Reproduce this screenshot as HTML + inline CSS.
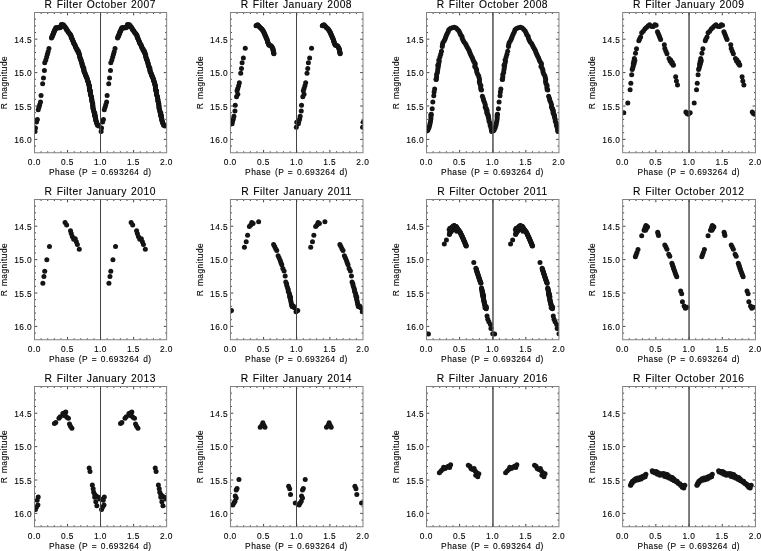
<!DOCTYPE html><html><head><meta charset="utf-8"><title>R Filter light curves</title>
<style>
html,body{margin:0;padding:0;background:#fff}
svg{display:block}
text{font-family:"Liberation Sans",sans-serif;fill:#000;stroke:#000;stroke-width:0.1px}
.t{font-size:10.3px;letter-spacing:0.5px;word-spacing:0.8px;text-anchor:middle}
.l{font-size:8.4px;letter-spacing:0.45px;word-spacing:1px;text-anchor:middle}
.k{font-size:8.4px;letter-spacing:0.4px;text-anchor:middle}
.y{font-size:8.4px;letter-spacing:0.4px;text-anchor:end}
.ml{stroke:#444;stroke-width:1;fill:none}
.mw{stroke:#505050;stroke-width:1.5;fill:none}
.ax{stroke:#808080;stroke-width:1;fill:none}
.tk{stroke:#444;stroke-width:1;fill:none}
.d circle{fill:#141414}
</style></head><body>
<svg width="761" height="551" viewBox="0 0 761 551">
<rect width="761" height="551" fill="#fff"/>
<g>
<text class="t" x="100.28" y="8.1">R Filter October 2007</text>
<path class="tk" d="M41.11 152.75v-1.5M41.11 12.5v1.5M47.72 152.75v-1.5M47.72 12.5v1.5M54.32 152.75v-1.5M54.32 12.5v1.5M60.93 152.75v-1.5M60.93 12.5v1.5M67.54 152.75v-2.8M67.54 12.5v2.8M74.15 152.75v-1.5M74.15 12.5v1.5M80.75 152.75v-1.5M80.75 12.5v1.5M87.36 152.75v-1.5M87.36 12.5v1.5M93.97 152.75v-1.5M93.97 12.5v1.5M100.58 152.75v-2.8M100.58 12.5v2.8M107.18 152.75v-1.5M107.18 12.5v1.5M113.79 152.75v-1.5M113.79 12.5v1.5M120.4 152.75v-1.5M120.4 12.5v1.5M127.01 152.75v-1.5M127.01 12.5v1.5M133.61 152.75v-2.8M133.61 12.5v2.8M140.22 152.75v-1.5M140.22 12.5v1.5M146.83 152.75v-1.5M146.83 12.5v1.5M153.44 152.75v-1.5M153.44 12.5v1.5M160.04 152.75v-1.5M160.04 12.5v1.5M34.5 19.18h1.5M166.65 19.18h-1.5M34.5 25.86h1.5M166.65 25.86h-1.5M34.5 32.54h1.5M166.65 32.54h-1.5M34.5 39.21h2.8M166.65 39.21h-2.8M34.5 45.89h1.5M166.65 45.89h-1.5M34.5 52.57h1.5M166.65 52.57h-1.5M34.5 59.25h1.5M166.65 59.25h-1.5M34.5 65.93h1.5M166.65 65.93h-1.5M34.5 72.61h2.8M166.65 72.61h-2.8M34.5 79.29h1.5M166.65 79.29h-1.5M34.5 85.96h1.5M166.65 85.96h-1.5M34.5 92.64h1.5M166.65 92.64h-1.5M34.5 99.32h1.5M166.65 99.32h-1.5M34.5 106h2.8M166.65 106h-2.8M34.5 112.68h1.5M166.65 112.68h-1.5M34.5 119.36h1.5M166.65 119.36h-1.5M34.5 126.04h1.5M166.65 126.04h-1.5M34.5 132.71h1.5M166.65 132.71h-1.5M34.5 139.39h2.8M166.65 139.39h-2.8M34.5 146.07h1.5M166.65 146.07h-1.5"/>
<clipPath id="c0"><rect x="34.5" y="12.5" width="132.15" height="140.25"/></clipPath>
<g class="d" clip-path="url(#c0)"><circle cx="51.47" cy="37.95" r="2.5"/><circle cx="117.54" cy="37.95" r="2.5"/><circle cx="51.75" cy="36.98" r="2.5"/><circle cx="117.82" cy="36.98" r="2.5"/><circle cx="52.47" cy="36.2" r="2.5"/><circle cx="118.54" cy="36.2" r="2.5"/><circle cx="52.49" cy="35.13" r="2.5"/><circle cx="118.56" cy="35.13" r="2.5"/><circle cx="53.18" cy="34.33" r="2.5"/><circle cx="119.25" cy="34.33" r="2.5"/><circle cx="53.46" cy="33.37" r="2.5"/><circle cx="119.54" cy="33.37" r="2.5"/><circle cx="53.66" cy="32.36" r="2.5"/><circle cx="119.73" cy="32.36" r="2.5"/><circle cx="54.34" cy="31.57" r="2.5"/><circle cx="120.42" cy="31.57" r="2.5"/><circle cx="54.43" cy="30.52" r="2.5"/><circle cx="120.51" cy="30.52" r="2.5"/><circle cx="55.14" cy="29.73" r="2.5"/><circle cx="121.21" cy="29.73" r="2.5"/><circle cx="55.35" cy="28.72" r="2.5"/><circle cx="121.43" cy="28.72" r="2.5"/><circle cx="55.82" cy="27.83" r="2.5"/><circle cx="121.89" cy="27.83" r="2.5"/><circle cx="56.77" cy="27.55" r="2.5"/><circle cx="122.84" cy="27.55" r="2.5"/><circle cx="57.65" cy="28.08" r="2.5"/><circle cx="123.73" cy="28.08" r="2.5"/><circle cx="58.7" cy="27.73" r="2.5"/><circle cx="124.77" cy="27.73" r="2.5"/><circle cx="59.69" cy="27.81" r="2.5"/><circle cx="125.77" cy="27.81" r="2.5"/><circle cx="60.36" cy="27.39" r="2.5"/><circle cx="126.43" cy="27.39" r="2.5"/><circle cx="60.96" cy="26.57" r="2.5"/><circle cx="127.03" cy="26.57" r="2.5"/><circle cx="61.12" cy="25.54" r="2.5"/><circle cx="127.19" cy="25.54" r="2.5"/><circle cx="61.39" cy="24.57" r="2.5"/><circle cx="127.47" cy="24.57" r="2.5"/><circle cx="62.13" cy="24.85" r="2.5"/><circle cx="128.2" cy="24.85" r="2.5"/><circle cx="63.43" cy="24.67" r="2.5"/><circle cx="129.5" cy="24.67" r="2.5"/><circle cx="63.57" cy="25.81" r="2.5"/><circle cx="129.65" cy="25.81" r="2.5"/><circle cx="64.49" cy="26.37" r="2.5"/><circle cx="130.57" cy="26.37" r="2.5"/><circle cx="65.17" cy="27.12" r="2.5"/><circle cx="131.24" cy="27.12" r="2.5"/><circle cx="65.77" cy="27.93" r="2.5"/><circle cx="131.84" cy="27.93" r="2.5"/><circle cx="66.24" cy="28.82" r="2.5"/><circle cx="132.31" cy="28.82" r="2.5"/><circle cx="66.53" cy="29.84" r="2.5"/><circle cx="132.6" cy="29.84" r="2.5"/><circle cx="67.47" cy="30.39" r="2.5"/><circle cx="133.55" cy="30.39" r="2.5"/><circle cx="67.82" cy="31.37" r="2.5"/><circle cx="133.9" cy="31.37" r="2.5"/><circle cx="68.37" cy="32.21" r="2.5"/><circle cx="134.45" cy="32.21" r="2.5"/><circle cx="69.1" cy="32.91" r="2.5"/><circle cx="135.18" cy="32.91" r="2.5"/><circle cx="69.59" cy="33.8" r="2.5"/><circle cx="135.66" cy="33.8" r="2.5"/><circle cx="70.42" cy="34.5" r="2.5"/><circle cx="136.49" cy="34.5" r="2.5"/><circle cx="70.83" cy="35.41" r="2.5"/><circle cx="136.9" cy="35.41" r="2.5"/><circle cx="71.14" cy="36.37" r="2.5"/><circle cx="137.21" cy="36.37" r="2.5"/><circle cx="71.24" cy="37.42" r="2.5"/><circle cx="137.31" cy="37.42" r="2.5"/><circle cx="71.81" cy="38.26" r="2.5"/><circle cx="137.88" cy="38.26" r="2.5"/><circle cx="72.29" cy="39.14" r="2.5"/><circle cx="138.36" cy="39.14" r="2.5"/><circle cx="72.52" cy="40.13" r="2.5"/><circle cx="138.59" cy="40.13" r="2.5"/><circle cx="73.01" cy="41.01" r="2.5"/><circle cx="139.08" cy="41.01" r="2.5"/><circle cx="73.52" cy="41.88" r="2.5"/><circle cx="139.59" cy="41.88" r="2.5"/><circle cx="73.6" cy="42.93" r="2.5"/><circle cx="139.68" cy="42.93" r="2.5"/><circle cx="74.07" cy="43.82" r="2.5"/><circle cx="140.15" cy="43.82" r="2.5"/><circle cx="74.81" cy="44.58" r="2.5"/><circle cx="140.88" cy="44.58" r="2.5"/><circle cx="75.04" cy="45.57" r="2.5"/><circle cx="141.12" cy="45.57" r="2.5"/><circle cx="75.53" cy="46.45" r="2.5"/><circle cx="141.6" cy="46.45" r="2.5"/><circle cx="75.75" cy="47.46" r="2.5"/><circle cx="141.83" cy="47.46" r="2.5"/><circle cx="76.29" cy="48.3" r="2.5"/><circle cx="142.37" cy="48.3" r="2.5"/><circle cx="77.01" cy="49.07" r="2.5"/><circle cx="143.09" cy="49.07" r="2.5"/><circle cx="77.03" cy="50.17" r="2.5"/><circle cx="143.1" cy="50.17" r="2.5"/><circle cx="78.02" cy="50.8" r="2.5"/><circle cx="144.09" cy="50.8" r="2.5"/><circle cx="78.27" cy="51.79" r="2.5"/><circle cx="144.35" cy="51.79" r="2.5"/><circle cx="78.42" cy="52.21" r="2.5"/><circle cx="144.5" cy="52.21" r="2.5"/><circle cx="78.23" cy="52.26" r="2.5"/><circle cx="144.3" cy="52.26" r="2.5"/><circle cx="78.94" cy="53.08" r="2.5"/><circle cx="145.02" cy="53.08" r="2.5"/><circle cx="79.02" cy="54.1" r="2.5"/><circle cx="145.1" cy="54.1" r="2.5"/><circle cx="79.63" cy="54.96" r="2.5"/><circle cx="145.7" cy="54.96" r="2.5"/><circle cx="79.52" cy="56.04" r="2.5"/><circle cx="145.6" cy="56.04" r="2.5"/><circle cx="79.76" cy="57.01" r="2.5"/><circle cx="145.84" cy="57.01" r="2.5"/><circle cx="80.2" cy="57.92" r="2.5"/><circle cx="146.27" cy="57.92" r="2.5"/><circle cx="80.3" cy="58.94" r="2.5"/><circle cx="146.38" cy="58.94" r="2.5"/><circle cx="80.99" cy="59.77" r="2.5"/><circle cx="147.07" cy="59.77" r="2.5"/><circle cx="81.04" cy="60.81" r="2.5"/><circle cx="147.12" cy="60.81" r="2.5"/><circle cx="81.42" cy="61.73" r="2.5"/><circle cx="147.49" cy="61.73" r="2.5"/><circle cx="81.74" cy="62.68" r="2.5"/><circle cx="147.81" cy="62.68" r="2.5"/><circle cx="82.11" cy="63.61" r="2.5"/><circle cx="148.18" cy="63.61" r="2.5"/><circle cx="82.13" cy="64.65" r="2.5"/><circle cx="148.21" cy="64.65" r="2.5"/><circle cx="82.35" cy="65.63" r="2.5"/><circle cx="148.43" cy="65.63" r="2.5"/><circle cx="82.95" cy="66.49" r="2.5"/><circle cx="149.03" cy="66.49" r="2.5"/><circle cx="83.1" cy="67.49" r="2.5"/><circle cx="149.18" cy="67.49" r="2.5"/><circle cx="83.8" cy="68.33" r="2.5"/><circle cx="149.87" cy="68.33" r="2.5"/><circle cx="83.65" cy="69.41" r="2.5"/><circle cx="149.73" cy="69.41" r="2.5"/><circle cx="83.98" cy="70.36" r="2.5"/><circle cx="150.05" cy="70.36" r="2.5"/><circle cx="84.03" cy="71.38" r="2.5"/><circle cx="150.1" cy="71.38" r="2.5"/><circle cx="84.43" cy="72.31" r="2.5"/><circle cx="150.51" cy="72.31" r="2.5"/><circle cx="85.07" cy="73.16" r="2.5"/><circle cx="151.15" cy="73.16" r="2.5"/><circle cx="85.32" cy="74.13" r="2.5"/><circle cx="151.39" cy="74.13" r="2.5"/><circle cx="85.47" cy="75.14" r="2.5"/><circle cx="151.55" cy="75.14" r="2.5"/><circle cx="86.23" cy="75.93" r="2.5"/><circle cx="152.31" cy="75.93" r="2.5"/><circle cx="86.27" cy="76.97" r="2.5"/><circle cx="152.34" cy="76.97" r="2.5"/><circle cx="86.8" cy="77.85" r="2.5"/><circle cx="152.87" cy="77.85" r="2.5"/><circle cx="87.16" cy="78.78" r="2.5"/><circle cx="153.24" cy="78.78" r="2.5"/><circle cx="87.54" cy="79.71" r="2.5"/><circle cx="153.61" cy="79.71" r="2.5"/><circle cx="87.4" cy="80.82" r="2.5"/><circle cx="153.47" cy="80.82" r="2.5"/><circle cx="88.15" cy="81.61" r="2.5"/><circle cx="154.23" cy="81.61" r="2.5"/><circle cx="88.41" cy="82.58" r="2.5"/><circle cx="154.49" cy="82.58" r="2.5"/><circle cx="88.65" cy="83.56" r="2.5"/><circle cx="154.72" cy="83.56" r="2.5"/><circle cx="88.65" cy="84.58" r="2.5"/><circle cx="154.72" cy="84.58" r="2.5"/><circle cx="89.38" cy="85.46" r="2.5"/><circle cx="155.45" cy="85.46" r="2.5"/><circle cx="89.3" cy="86.49" r="2.5"/><circle cx="155.38" cy="86.49" r="2.5"/><circle cx="89.41" cy="87.49" r="2.5"/><circle cx="155.49" cy="87.49" r="2.5"/><circle cx="89.36" cy="88.51" r="2.5"/><circle cx="155.44" cy="88.51" r="2.5"/><circle cx="89.59" cy="89.48" r="2.5"/><circle cx="155.66" cy="89.48" r="2.5"/><circle cx="89.74" cy="90.48" r="2.5"/><circle cx="155.81" cy="90.48" r="2.5"/><circle cx="90" cy="90.5" r="2.5"/><circle cx="156.08" cy="90.5" r="2.5"/><circle cx="48.95" cy="48.52" r="2.5"/><circle cx="115.03" cy="48.52" r="2.5"/><circle cx="48.1" cy="51.68" r="2.5"/><circle cx="114.18" cy="51.68" r="2.5"/><circle cx="47.37" cy="54.31" r="2.5"/><circle cx="113.45" cy="54.31" r="2.5"/><circle cx="46.63" cy="56.95" r="2.5"/><circle cx="112.71" cy="56.95" r="2.5"/><circle cx="45.79" cy="60.1" r="2.5"/><circle cx="111.87" cy="60.1" r="2.5"/><circle cx="44.74" cy="62.74" r="2.5"/><circle cx="110.81" cy="62.74" r="2.5"/><circle cx="44.42" cy="70.52" r="2.5"/><circle cx="110.49" cy="70.52" r="2.5"/><circle cx="43.47" cy="77.9" r="2.5"/><circle cx="109.55" cy="77.9" r="2.5"/><circle cx="42.63" cy="83.69" r="2.5"/><circle cx="108.71" cy="83.69" r="2.5"/><circle cx="41.05" cy="95.58" r="2.5"/><circle cx="107.13" cy="95.58" r="2.5"/><circle cx="40.53" cy="102.11" r="2.5"/><circle cx="106.6" cy="102.11" r="2.5"/><circle cx="39.69" cy="104.74" r="2.5"/><circle cx="105.76" cy="104.74" r="2.5"/><circle cx="38.95" cy="107.37" r="2.5"/><circle cx="105.02" cy="107.37" r="2.5"/><circle cx="38.21" cy="109.69" r="2.5"/><circle cx="104.29" cy="109.69" r="2.5"/><circle cx="90.15" cy="90.5" r="2.5"/><circle cx="156.23" cy="90.5" r="2.5"/><circle cx="90.25" cy="91.6" r="2.5"/><circle cx="156.33" cy="91.6" r="2.5"/><circle cx="90.49" cy="92.68" r="2.5"/><circle cx="156.57" cy="92.68" r="2.5"/><circle cx="90.33" cy="93.82" r="2.5"/><circle cx="156.4" cy="93.82" r="2.5"/><circle cx="90.47" cy="94.91" r="2.5"/><circle cx="156.55" cy="94.91" r="2.5"/><circle cx="91.23" cy="95.9" r="2.5"/><circle cx="157.3" cy="95.9" r="2.5"/><circle cx="91.4" cy="96.98" r="2.5"/><circle cx="157.48" cy="96.98" r="2.5"/><circle cx="91.56" cy="98.07" r="2.5"/><circle cx="157.64" cy="98.07" r="2.5"/><circle cx="91.76" cy="99.15" r="2.5"/><circle cx="157.84" cy="99.15" r="2.5"/><circle cx="91.78" cy="100.26" r="2.5"/><circle cx="157.86" cy="100.26" r="2.5"/><circle cx="91.91" cy="101.36" r="2.5"/><circle cx="157.98" cy="101.36" r="2.5"/><circle cx="92.33" cy="102.4" r="2.5"/><circle cx="158.4" cy="102.4" r="2.5"/><circle cx="92.71" cy="103.45" r="2.5"/><circle cx="158.79" cy="103.45" r="2.5"/><circle cx="92.63" cy="104.58" r="2.5"/><circle cx="158.7" cy="104.58" r="2.5"/><circle cx="92.86" cy="105.66" r="2.5"/><circle cx="158.94" cy="105.66" r="2.5"/><circle cx="92.93" cy="106.76" r="2.5"/><circle cx="159.01" cy="106.76" r="2.5"/><circle cx="92.87" cy="107.9" r="2.5"/><circle cx="158.95" cy="107.9" r="2.5"/><circle cx="93.25" cy="108.95" r="2.5"/><circle cx="159.33" cy="108.95" r="2.5"/><circle cx="93.58" cy="110" r="2.5"/><circle cx="159.65" cy="110" r="2.5"/><circle cx="93.77" cy="111.09" r="2.5"/><circle cx="159.84" cy="111.09" r="2.5"/><circle cx="94.05" cy="112.16" r="2.5"/><circle cx="160.12" cy="112.16" r="2.5"/><circle cx="94.78" cy="113.09" r="2.5"/><circle cx="160.86" cy="113.09" r="2.5"/><circle cx="94.53" cy="114.31" r="2.5"/><circle cx="160.6" cy="114.31" r="2.5"/><circle cx="94.93" cy="115.34" r="2.5"/><circle cx="161" cy="115.34" r="2.5"/><circle cx="95.26" cy="115.79" r="2.5"/><circle cx="161.34" cy="115.79" r="2.5"/><circle cx="37.37" cy="119.47" r="2.5"/><circle cx="103.44" cy="119.47" r="2.5"/><circle cx="36.53" cy="122.1" r="2.5"/><circle cx="102.6" cy="122.1" r="2.5"/><circle cx="35.47" cy="127.89" r="2.5"/><circle cx="101.55" cy="127.89" r="2.5"/><circle cx="35.06" cy="131.58" r="2.5"/><circle cx="101.13" cy="131.58" r="2.5"/><circle cx="94.48" cy="114.78" r="2.5"/><circle cx="160.55" cy="114.78" r="2.5"/><circle cx="94.72" cy="115.86" r="2.5"/><circle cx="160.8" cy="115.86" r="2.5"/><circle cx="95.19" cy="116.89" r="2.5"/><circle cx="161.26" cy="116.89" r="2.5"/><circle cx="95.37" cy="117.97" r="2.5"/><circle cx="161.45" cy="117.97" r="2.5"/><circle cx="95.77" cy="119.01" r="2.5"/><circle cx="161.85" cy="119.01" r="2.5"/><circle cx="95.65" cy="120.17" r="2.5"/><circle cx="161.73" cy="120.17" r="2.5"/><circle cx="96.29" cy="121.15" r="2.5"/><circle cx="162.37" cy="121.15" r="2.5"/><circle cx="96.53" cy="122.22" r="2.5"/><circle cx="162.61" cy="122.22" r="2.5"/><circle cx="96.78" cy="123.25" r="2.5"/><circle cx="162.86" cy="123.25" r="2.5"/><circle cx="97.22" cy="124.26" r="2.5"/><circle cx="163.29" cy="124.26" r="2.5"/><circle cx="97.52" cy="125.21" r="2.5"/><circle cx="163.6" cy="125.21" r="2.5"/><circle cx="98.59" cy="125.55" r="2.5"/><circle cx="164.66" cy="125.55" r="2.5"/><circle cx="98.95" cy="126.1" r="2.5"/><circle cx="165.02" cy="126.1" r="2.5"/></g>
<rect class="ax" x="34.5" y="12.5" width="132.15" height="140.25"/>
<path class="ml" d="M100.5 12.5V152.75"/>
<text class="k" transform="translate(34.3 165.25) scale(1 1.08)">0.0</text>
<text class="k" transform="translate(67.34 165.25) scale(1 1.08)">0.5</text>
<text class="k" transform="translate(100.38 165.25) scale(1 1.08)">1.0</text>
<text class="k" transform="translate(133.41 165.25) scale(1 1.08)">1.5</text>
<text class="k" transform="translate(166.45 165.25) scale(1 1.08)">2.0</text>
<text class="y" transform="translate(32.1 42.91) scale(1 1.08)">14.5</text>
<text class="y" transform="translate(32.1 76.31) scale(1 1.08)">15.0</text>
<text class="y" transform="translate(32.1 109.7) scale(1 1.08)">15.5</text>
<text class="y" transform="translate(32.1 143.09) scale(1 1.08)">16.0</text>
<text class="l" transform="translate(100.28 175.15) scale(1 1.08)">Phase (P = 0.693264 d)</text>
<text class="l" transform="translate(6.9 82.62) rotate(-90)">R magnitude</text>
</g>
<g>
<text class="t" x="296.43" y="8.1">R Filter January 2008</text>
<path class="tk" d="M237.08 152.75v-1.5M237.08 12.5v1.5M243.7 152.75v-1.5M243.7 12.5v1.5M250.33 152.75v-1.5M250.33 12.5v1.5M256.96 152.75v-1.5M256.96 12.5v1.5M263.59 152.75v-2.8M263.59 12.5v2.8M270.21 152.75v-1.5M270.21 12.5v1.5M276.84 152.75v-1.5M276.84 12.5v1.5M283.47 152.75v-1.5M283.47 12.5v1.5M290.1 152.75v-1.5M290.1 12.5v1.5M296.73 152.75v-2.8M296.73 12.5v2.8M303.35 152.75v-1.5M303.35 12.5v1.5M309.98 152.75v-1.5M309.98 12.5v1.5M316.61 152.75v-1.5M316.61 12.5v1.5M323.24 152.75v-1.5M323.24 12.5v1.5M329.86 152.75v-2.8M329.86 12.5v2.8M336.49 152.75v-1.5M336.49 12.5v1.5M343.12 152.75v-1.5M343.12 12.5v1.5M349.75 152.75v-1.5M349.75 12.5v1.5M356.37 152.75v-1.5M356.37 12.5v1.5M230.45 19.18h1.5M363 19.18h-1.5M230.45 25.86h1.5M363 25.86h-1.5M230.45 32.54h1.5M363 32.54h-1.5M230.45 39.21h2.8M363 39.21h-2.8M230.45 45.89h1.5M363 45.89h-1.5M230.45 52.57h1.5M363 52.57h-1.5M230.45 59.25h1.5M363 59.25h-1.5M230.45 65.93h1.5M363 65.93h-1.5M230.45 72.61h2.8M363 72.61h-2.8M230.45 79.29h1.5M363 79.29h-1.5M230.45 85.96h1.5M363 85.96h-1.5M230.45 92.64h1.5M363 92.64h-1.5M230.45 99.32h1.5M363 99.32h-1.5M230.45 106h2.8M363 106h-2.8M230.45 112.68h1.5M363 112.68h-1.5M230.45 119.36h1.5M363 119.36h-1.5M230.45 126.04h1.5M363 126.04h-1.5M230.45 132.71h1.5M363 132.71h-1.5M230.45 139.39h2.8M363 139.39h-2.8M230.45 146.07h1.5M363 146.07h-1.5"/>
<clipPath id="c1"><rect x="230.45" y="12.5" width="132.55" height="140.25"/></clipPath>
<g class="d" clip-path="url(#c1)"><circle cx="256" cy="25.68" r="2.5"/><circle cx="322.27" cy="25.68" r="2.5"/><circle cx="256.83" cy="25.13" r="2.5"/><circle cx="323.11" cy="25.13" r="2.5"/><circle cx="257.65" cy="24.71" r="2.5"/><circle cx="323.92" cy="24.71" r="2.5"/><circle cx="258.32" cy="25.45" r="2.5"/><circle cx="324.59" cy="25.45" r="2.5"/><circle cx="258.99" cy="26.18" r="2.5"/><circle cx="325.27" cy="26.18" r="2.5"/><circle cx="259.66" cy="26.93" r="2.5"/><circle cx="325.94" cy="26.93" r="2.5"/><circle cx="260.37" cy="27.63" r="2.5"/><circle cx="326.65" cy="27.63" r="2.5"/><circle cx="261.08" cy="28.34" r="2.5"/><circle cx="327.36" cy="28.34" r="2.5"/><circle cx="261.78" cy="29.05" r="2.5"/><circle cx="328.06" cy="29.05" r="2.5"/><circle cx="262.45" cy="29.8" r="2.5"/><circle cx="328.72" cy="29.8" r="2.5"/><circle cx="262.96" cy="30.65" r="2.5"/><circle cx="329.23" cy="30.65" r="2.5"/><circle cx="263.47" cy="31.51" r="2.5"/><circle cx="329.75" cy="31.51" r="2.5"/><circle cx="263.97" cy="32.38" r="2.5"/><circle cx="330.24" cy="32.38" r="2.5"/><circle cx="264.36" cy="33.3" r="2.5"/><circle cx="330.64" cy="33.3" r="2.5"/><circle cx="264.75" cy="34.22" r="2.5"/><circle cx="331.03" cy="34.22" r="2.5"/><circle cx="265.14" cy="35.13" r="2.5"/><circle cx="331.42" cy="35.13" r="2.5"/><circle cx="265.54" cy="36.06" r="2.5"/><circle cx="331.82" cy="36.06" r="2.5"/><circle cx="265.93" cy="36.98" r="2.5"/><circle cx="332.21" cy="36.98" r="2.5"/><circle cx="266.33" cy="37.89" r="2.5"/><circle cx="332.61" cy="37.89" r="2.5"/><circle cx="266.72" cy="38.81" r="2.5"/><circle cx="333" cy="38.81" r="2.5"/><circle cx="267.1" cy="39.74" r="2.5"/><circle cx="333.38" cy="39.74" r="2.5"/><circle cx="267.37" cy="40.7" r="2.5"/><circle cx="333.65" cy="40.7" r="2.5"/><circle cx="267.65" cy="41.66" r="2.5"/><circle cx="333.93" cy="41.66" r="2.5"/><circle cx="267.92" cy="42.62" r="2.5"/><circle cx="334.2" cy="42.62" r="2.5"/><circle cx="268.25" cy="43.56" r="2.5"/><circle cx="334.53" cy="43.56" r="2.5"/><circle cx="268.7" cy="44.46" r="2.5"/><circle cx="334.98" cy="44.46" r="2.5"/><circle cx="269.15" cy="45.35" r="2.5"/><circle cx="335.42" cy="45.35" r="2.5"/><circle cx="270.11" cy="45.61" r="2.5"/><circle cx="336.38" cy="45.61" r="2.5"/><circle cx="271.08" cy="45.85" r="2.5"/><circle cx="337.35" cy="45.85" r="2.5"/><circle cx="271.68" cy="46.59" r="2.5"/><circle cx="337.95" cy="46.59" r="2.5"/><circle cx="272.2" cy="47.45" r="2.5"/><circle cx="338.47" cy="47.45" r="2.5"/><circle cx="272.71" cy="48.3" r="2.5"/><circle cx="338.98" cy="48.3" r="2.5"/><circle cx="272.99" cy="49.25" r="2.5"/><circle cx="339.26" cy="49.25" r="2.5"/><circle cx="273.18" cy="50.23" r="2.5"/><circle cx="339.46" cy="50.23" r="2.5"/><circle cx="273.38" cy="51.22" r="2.5"/><circle cx="339.66" cy="51.22" r="2.5"/><circle cx="273.58" cy="52.2" r="2.5"/><circle cx="339.85" cy="52.2" r="2.5"/><circle cx="273.77" cy="53.17" r="2.5"/><circle cx="340.05" cy="53.17" r="2.5"/><circle cx="273.89" cy="53.79" r="2.5"/><circle cx="340.17" cy="53.79" r="2.5"/><circle cx="245.26" cy="48.32" r="2.5"/><circle cx="311.54" cy="48.32" r="2.5"/><circle cx="243.37" cy="58" r="2.5"/><circle cx="309.64" cy="58" r="2.5"/><circle cx="242.11" cy="62.74" r="2.5"/><circle cx="308.38" cy="62.74" r="2.5"/><circle cx="241.47" cy="68.42" r="2.5"/><circle cx="307.75" cy="68.42" r="2.5"/><circle cx="240.74" cy="73.15" r="2.5"/><circle cx="307.01" cy="73.15" r="2.5"/><circle cx="239.37" cy="82.63" r="2.5"/><circle cx="305.65" cy="82.63" r="2.5"/><circle cx="238.63" cy="85.79" r="2.5"/><circle cx="304.9" cy="85.79" r="2.5"/><circle cx="237.79" cy="88.42" r="2.5"/><circle cx="304.06" cy="88.42" r="2.5"/><circle cx="237.05" cy="90.84" r="2.5"/><circle cx="303.33" cy="90.84" r="2.5"/><circle cx="237.79" cy="94.21" r="2.5"/><circle cx="304.06" cy="94.21" r="2.5"/><circle cx="236.53" cy="96.84" r="2.5"/><circle cx="302.8" cy="96.84" r="2.5"/><circle cx="235.26" cy="105.27" r="2.5"/><circle cx="301.54" cy="105.27" r="2.5"/><circle cx="234.95" cy="111.06" r="2.5"/><circle cx="301.23" cy="111.06" r="2.5"/><circle cx="233.9" cy="116.32" r="2.5"/><circle cx="300.17" cy="116.32" r="2.5"/><circle cx="233.37" cy="118.95" r="2.5"/><circle cx="299.64" cy="118.95" r="2.5"/><circle cx="232.52" cy="121.58" r="2.5"/><circle cx="298.8" cy="121.58" r="2.5"/><circle cx="232.11" cy="123.68" r="2.5"/><circle cx="298.38" cy="123.68" r="2.5"/><circle cx="230.46" cy="122.32" r="2.5"/><circle cx="296.74" cy="122.32" r="2.5"/><circle cx="363.01" cy="122.32" r="2.5"/><circle cx="296.31" cy="127.16" r="2.5"/><circle cx="362.59" cy="127.16" r="2.5"/></g>
<rect class="ax" x="230.45" y="12.5" width="132.55" height="140.25"/>
<path class="ml" d="M296.5 12.5V152.75"/>
<text class="k" transform="translate(230.25 165.25) scale(1 1.08)">0.0</text>
<text class="k" transform="translate(263.39 165.25) scale(1 1.08)">0.5</text>
<text class="k" transform="translate(296.53 165.25) scale(1 1.08)">1.0</text>
<text class="k" transform="translate(329.66 165.25) scale(1 1.08)">1.5</text>
<text class="k" transform="translate(362.8 165.25) scale(1 1.08)">2.0</text>
<text class="y" transform="translate(228.05 42.91) scale(1 1.08)">14.5</text>
<text class="y" transform="translate(228.05 76.31) scale(1 1.08)">15.0</text>
<text class="y" transform="translate(228.05 109.7) scale(1 1.08)">15.5</text>
<text class="y" transform="translate(228.05 143.09) scale(1 1.08)">16.0</text>
<text class="l" transform="translate(296.43 175.15) scale(1 1.08)">Phase (P = 0.693264 d)</text>
<text class="l" transform="translate(202.85 82.62) rotate(-90)">R magnitude</text>
</g>
<g>
<text class="t" x="492.43" y="8.1">R Filter October 2008</text>
<path class="tk" d="M433.12 152.75v-1.5M433.12 12.5v1.5M439.75 152.75v-1.5M439.75 12.5v1.5M446.37 152.75v-1.5M446.37 12.5v1.5M452.99 152.75v-1.5M452.99 12.5v1.5M459.61 152.75v-2.8M459.61 12.5v2.8M466.24 152.75v-1.5M466.24 12.5v1.5M472.86 152.75v-1.5M472.86 12.5v1.5M479.48 152.75v-1.5M479.48 12.5v1.5M486.1 152.75v-1.5M486.1 12.5v1.5M492.73 152.75v-2.8M492.73 12.5v2.8M499.35 152.75v-1.5M499.35 12.5v1.5M505.97 152.75v-1.5M505.97 12.5v1.5M512.59 152.75v-1.5M512.59 12.5v1.5M519.22 152.75v-1.5M519.22 12.5v1.5M525.84 152.75v-2.8M525.84 12.5v2.8M532.46 152.75v-1.5M532.46 12.5v1.5M539.08 152.75v-1.5M539.08 12.5v1.5M545.71 152.75v-1.5M545.71 12.5v1.5M552.33 152.75v-1.5M552.33 12.5v1.5M426.5 19.18h1.5M558.95 19.18h-1.5M426.5 25.86h1.5M558.95 25.86h-1.5M426.5 32.54h1.5M558.95 32.54h-1.5M426.5 39.21h2.8M558.95 39.21h-2.8M426.5 45.89h1.5M558.95 45.89h-1.5M426.5 52.57h1.5M558.95 52.57h-1.5M426.5 59.25h1.5M558.95 59.25h-1.5M426.5 65.93h1.5M558.95 65.93h-1.5M426.5 72.61h2.8M558.95 72.61h-2.8M426.5 79.29h1.5M558.95 79.29h-1.5M426.5 85.96h1.5M558.95 85.96h-1.5M426.5 92.64h1.5M558.95 92.64h-1.5M426.5 99.32h1.5M558.95 99.32h-1.5M426.5 106h2.8M558.95 106h-2.8M426.5 112.68h1.5M558.95 112.68h-1.5M426.5 119.36h1.5M558.95 119.36h-1.5M426.5 126.04h1.5M558.95 126.04h-1.5M426.5 132.71h1.5M558.95 132.71h-1.5M426.5 139.39h2.8M558.95 139.39h-2.8M426.5 146.07h1.5M558.95 146.07h-1.5"/>
<clipPath id="c2"><rect x="426.5" y="12.5" width="132.45" height="140.25"/></clipPath>
<g class="d" clip-path="url(#c2)"><circle cx="442.24" cy="46.5" r="2.5"/><circle cx="508.46" cy="46.5" r="2.5"/><circle cx="442.49" cy="44.48" r="2.5"/><circle cx="508.71" cy="44.48" r="2.5"/><circle cx="443.03" cy="42.55" r="2.5"/><circle cx="509.25" cy="42.55" r="2.5"/><circle cx="444.2" cy="40.84" r="2.5"/><circle cx="510.42" cy="40.84" r="2.5"/><circle cx="445.04" cy="39.02" r="2.5"/><circle cx="511.27" cy="39.02" r="2.5"/><circle cx="445.65" cy="37.13" r="2.5"/><circle cx="511.88" cy="37.13" r="2.5"/><circle cx="446.4" cy="35.27" r="2.5"/><circle cx="512.63" cy="35.27" r="2.5"/><circle cx="447.24" cy="33.5" r="2.5"/><circle cx="513.46" cy="33.5" r="2.5"/><circle cx="448.17" cy="31.73" r="2.5"/><circle cx="514.39" cy="31.73" r="2.5"/><circle cx="448.82" cy="29.75" r="2.5"/><circle cx="515.04" cy="29.75" r="2.5"/><circle cx="450.3" cy="28.38" r="2.5"/><circle cx="516.53" cy="28.38" r="2.5"/><circle cx="452.14" cy="27.67" r="2.5"/><circle cx="518.36" cy="27.67" r="2.5"/><circle cx="454.25" cy="27.29" r="2.5"/><circle cx="520.47" cy="27.29" r="2.5"/><circle cx="456.1" cy="28.03" r="2.5"/><circle cx="522.33" cy="28.03" r="2.5"/><circle cx="457.57" cy="29.6" r="2.5"/><circle cx="523.79" cy="29.6" r="2.5"/><circle cx="458.94" cy="31.07" r="2.5"/><circle cx="525.17" cy="31.07" r="2.5"/><circle cx="459.89" cy="32.88" r="2.5"/><circle cx="526.12" cy="32.88" r="2.5"/><circle cx="460.6" cy="34.68" r="2.5"/><circle cx="526.82" cy="34.68" r="2.5"/><circle cx="461.83" cy="36.32" r="2.5"/><circle cx="528.06" cy="36.32" r="2.5"/><circle cx="462.25" cy="38.34" r="2.5"/><circle cx="528.48" cy="38.34" r="2.5"/><circle cx="463.11" cy="40.15" r="2.5"/><circle cx="529.33" cy="40.15" r="2.5"/><circle cx="464.03" cy="41.93" r="2.5"/><circle cx="530.25" cy="41.93" r="2.5"/><circle cx="465.34" cy="43.51" r="2.5"/><circle cx="531.57" cy="43.51" r="2.5"/><circle cx="466.27" cy="45.29" r="2.5"/><circle cx="532.5" cy="45.29" r="2.5"/><circle cx="467.1" cy="47.08" r="2.5"/><circle cx="533.32" cy="47.08" r="2.5"/><circle cx="468.11" cy="48.8" r="2.5"/><circle cx="534.33" cy="48.8" r="2.5"/><circle cx="469.1" cy="50.54" r="2.5"/><circle cx="535.32" cy="50.54" r="2.5"/><circle cx="469.76" cy="52.46" r="2.5"/><circle cx="535.99" cy="52.46" r="2.5"/><circle cx="470.54" cy="54.33" r="2.5"/><circle cx="536.76" cy="54.33" r="2.5"/><circle cx="471.29" cy="56.12" r="2.5"/><circle cx="537.52" cy="56.12" r="2.5"/><circle cx="472.3" cy="57.87" r="2.5"/><circle cx="538.53" cy="57.87" r="2.5"/><circle cx="472.99" cy="59.76" r="2.5"/><circle cx="539.21" cy="59.76" r="2.5"/><circle cx="473.76" cy="61.61" r="2.5"/><circle cx="539.99" cy="61.61" r="2.5"/><circle cx="475.02" cy="63.25" r="2.5"/><circle cx="541.25" cy="63.25" r="2.5"/><circle cx="475.16" cy="64.84" r="2.5"/><circle cx="541.38" cy="64.84" r="2.5"/><circle cx="441.47" cy="51.16" r="2.5"/><circle cx="507.7" cy="51.16" r="2.5"/><circle cx="440.74" cy="54.31" r="2.5"/><circle cx="506.96" cy="54.31" r="2.5"/><circle cx="439.9" cy="56.95" r="2.5"/><circle cx="506.12" cy="56.95" r="2.5"/><circle cx="438.84" cy="60.1" r="2.5"/><circle cx="505.07" cy="60.1" r="2.5"/><circle cx="437.79" cy="65.37" r="2.5"/><circle cx="504.02" cy="65.37" r="2.5"/><circle cx="439.27" cy="61.04" r="2.5"/><circle cx="505.5" cy="61.04" r="2.5"/><circle cx="438.75" cy="63.28" r="2.5"/><circle cx="504.97" cy="63.28" r="2.5"/><circle cx="438.45" cy="65.56" r="2.5"/><circle cx="504.67" cy="65.56" r="2.5"/><circle cx="438.06" cy="67.82" r="2.5"/><circle cx="504.28" cy="67.82" r="2.5"/><circle cx="437.69" cy="70.1" r="2.5"/><circle cx="503.92" cy="70.1" r="2.5"/><circle cx="437.41" cy="72.38" r="2.5"/><circle cx="503.63" cy="72.38" r="2.5"/><circle cx="436.59" cy="74.56" r="2.5"/><circle cx="502.82" cy="74.56" r="2.5"/><circle cx="436.6" cy="76.89" r="2.5"/><circle cx="502.82" cy="76.89" r="2.5"/><circle cx="436.06" cy="79.15" r="2.5"/><circle cx="502.29" cy="79.15" r="2.5"/><circle cx="436.21" cy="79.47" r="2.5"/><circle cx="502.43" cy="79.47" r="2.5"/><circle cx="434.63" cy="88.95" r="2.5"/><circle cx="500.86" cy="88.95" r="2.5"/><circle cx="434.1" cy="92.11" r="2.5"/><circle cx="500.33" cy="92.11" r="2.5"/><circle cx="433.79" cy="95.79" r="2.5"/><circle cx="500.02" cy="95.79" r="2.5"/><circle cx="432.84" cy="102.11" r="2.5"/><circle cx="499.07" cy="102.11" r="2.5"/><circle cx="432.21" cy="108.74" r="2.5"/><circle cx="498.43" cy="108.74" r="2.5"/><circle cx="430.95" cy="114.74" r="2.5"/><circle cx="497.18" cy="114.74" r="2.5"/><circle cx="474.76" cy="66.46" r="2.5"/><circle cx="540.98" cy="66.46" r="2.5"/><circle cx="475.95" cy="68.15" r="2.5"/><circle cx="542.18" cy="68.15" r="2.5"/><circle cx="476.65" cy="70.03" r="2.5"/><circle cx="542.87" cy="70.03" r="2.5"/><circle cx="476.78" cy="72.08" r="2.5"/><circle cx="543.01" cy="72.08" r="2.5"/><circle cx="477.55" cy="73.94" r="2.5"/><circle cx="543.78" cy="73.94" r="2.5"/><circle cx="478.61" cy="75.73" r="2.5"/><circle cx="544.83" cy="75.73" r="2.5"/><circle cx="479.1" cy="77.67" r="2.5"/><circle cx="545.32" cy="77.67" r="2.5"/><circle cx="479.52" cy="79.63" r="2.5"/><circle cx="545.74" cy="79.63" r="2.5"/><circle cx="479.31" cy="81.72" r="2.5"/><circle cx="545.54" cy="81.72" r="2.5"/><circle cx="479.83" cy="83.65" r="2.5"/><circle cx="546.06" cy="83.65" r="2.5"/><circle cx="480.83" cy="85.48" r="2.5"/><circle cx="547.06" cy="85.48" r="2.5"/><circle cx="480.65" cy="87.57" r="2.5"/><circle cx="546.88" cy="87.57" r="2.5"/><circle cx="480.94" cy="89.55" r="2.5"/><circle cx="547.16" cy="89.55" r="2.5"/><circle cx="481.47" cy="90" r="2.5"/><circle cx="547.7" cy="90" r="2.5"/><circle cx="482.41" cy="96.35" r="2.5"/><circle cx="548.63" cy="96.35" r="2.5"/><circle cx="483.22" cy="98.41" r="2.5"/><circle cx="549.45" cy="98.41" r="2.5"/><circle cx="483.65" cy="100.57" r="2.5"/><circle cx="549.87" cy="100.57" r="2.5"/><circle cx="484.56" cy="102.59" r="2.5"/><circle cx="550.78" cy="102.59" r="2.5"/><circle cx="485.28" cy="104.68" r="2.5"/><circle cx="551.51" cy="104.68" r="2.5"/><circle cx="485.18" cy="107" r="2.5"/><circle cx="551.41" cy="107" r="2.5"/><circle cx="486.06" cy="109.03" r="2.5"/><circle cx="552.28" cy="109.03" r="2.5"/><circle cx="486.78" cy="111.12" r="2.5"/><circle cx="553.01" cy="111.12" r="2.5"/><circle cx="487.08" cy="113.31" r="2.5"/><circle cx="553.3" cy="113.31" r="2.5"/><circle cx="488" cy="115.34" r="2.5"/><circle cx="554.22" cy="115.34" r="2.5"/><circle cx="488.31" cy="116.84" r="2.5"/><circle cx="554.54" cy="116.84" r="2.5"/><circle cx="431.25" cy="114.17" r="2.5"/><circle cx="497.48" cy="114.17" r="2.5"/><circle cx="430.9" cy="116.45" r="2.5"/><circle cx="497.13" cy="116.45" r="2.5"/><circle cx="430.92" cy="118.78" r="2.5"/><circle cx="497.15" cy="118.78" r="2.5"/><circle cx="430.57" cy="121.05" r="2.5"/><circle cx="496.8" cy="121.05" r="2.5"/><circle cx="430.1" cy="123.31" r="2.5"/><circle cx="496.32" cy="123.31" r="2.5"/><circle cx="429.67" cy="125.57" r="2.5"/><circle cx="495.89" cy="125.57" r="2.5"/><circle cx="428.94" cy="127.77" r="2.5"/><circle cx="495.17" cy="127.77" r="2.5"/><circle cx="428.04" cy="129.86" r="2.5"/><circle cx="494.26" cy="129.86" r="2.5"/><circle cx="427.26" cy="130.74" r="2.5"/><circle cx="493.49" cy="130.74" r="2.5"/><circle cx="486.27" cy="108.4" r="2.5"/><circle cx="552.5" cy="108.4" r="2.5"/><circle cx="487.03" cy="110.48" r="2.5"/><circle cx="553.25" cy="110.48" r="2.5"/><circle cx="486.96" cy="112.77" r="2.5"/><circle cx="553.18" cy="112.77" r="2.5"/><circle cx="487.92" cy="114.8" r="2.5"/><circle cx="554.15" cy="114.8" r="2.5"/><circle cx="488.37" cy="116.95" r="2.5"/><circle cx="554.6" cy="116.95" r="2.5"/><circle cx="488.81" cy="119.11" r="2.5"/><circle cx="555.04" cy="119.11" r="2.5"/><circle cx="489.1" cy="121.31" r="2.5"/><circle cx="555.32" cy="121.31" r="2.5"/><circle cx="490.01" cy="123.34" r="2.5"/><circle cx="556.23" cy="123.34" r="2.5"/><circle cx="490.16" cy="125.57" r="2.5"/><circle cx="556.38" cy="125.57" r="2.5"/><circle cx="490.99" cy="127.63" r="2.5"/><circle cx="557.21" cy="127.63" r="2.5"/><circle cx="491.35" cy="129.8" r="2.5"/><circle cx="557.57" cy="129.8" r="2.5"/><circle cx="491.69" cy="131.58" r="2.5"/><circle cx="557.91" cy="131.58" r="2.5"/></g>
<rect class="ax" x="426.5" y="12.5" width="132.45" height="140.25"/>
<path class="mw" d="M492.95 12.5V152.75"/>
<text class="k" transform="translate(426.3 165.25) scale(1 1.08)">0.0</text>
<text class="k" transform="translate(459.41 165.25) scale(1 1.08)">0.5</text>
<text class="k" transform="translate(492.53 165.25) scale(1 1.08)">1.0</text>
<text class="k" transform="translate(525.64 165.25) scale(1 1.08)">1.5</text>
<text class="k" transform="translate(558.75 165.25) scale(1 1.08)">2.0</text>
<text class="y" transform="translate(424.1 42.91) scale(1 1.08)">14.5</text>
<text class="y" transform="translate(424.1 76.31) scale(1 1.08)">15.0</text>
<text class="y" transform="translate(424.1 109.7) scale(1 1.08)">15.5</text>
<text class="y" transform="translate(424.1 143.09) scale(1 1.08)">16.0</text>
<text class="l" transform="translate(492.43 175.15) scale(1 1.08)">Phase (P = 0.693264 d)</text>
<text class="l" transform="translate(398.9 82.62) rotate(-90)">R magnitude</text>
</g>
<g>
<text class="t" x="688.75" y="8.1">R Filter January 2009</text>
<path class="tk" d="M629.29 152.75v-1.5M629.29 12.5v1.5M635.93 152.75v-1.5M635.93 12.5v1.5M642.57 152.75v-1.5M642.57 12.5v1.5M649.21 152.75v-1.5M649.21 12.5v1.5M655.85 152.75v-2.8M655.85 12.5v2.8M662.49 152.75v-1.5M662.49 12.5v1.5M669.13 152.75v-1.5M669.13 12.5v1.5M675.77 152.75v-1.5M675.77 12.5v1.5M682.41 152.75v-1.5M682.41 12.5v1.5M689.05 152.75v-2.8M689.05 12.5v2.8M695.69 152.75v-1.5M695.69 12.5v1.5M702.33 152.75v-1.5M702.33 12.5v1.5M708.97 152.75v-1.5M708.97 12.5v1.5M715.61 152.75v-1.5M715.61 12.5v1.5M722.25 152.75v-2.8M722.25 12.5v2.8M728.89 152.75v-1.5M728.89 12.5v1.5M735.53 152.75v-1.5M735.53 12.5v1.5M742.17 152.75v-1.5M742.17 12.5v1.5M748.81 152.75v-1.5M748.81 12.5v1.5M622.65 19.18h1.5M755.45 19.18h-1.5M622.65 25.86h1.5M755.45 25.86h-1.5M622.65 32.54h1.5M755.45 32.54h-1.5M622.65 39.21h2.8M755.45 39.21h-2.8M622.65 45.89h1.5M755.45 45.89h-1.5M622.65 52.57h1.5M755.45 52.57h-1.5M622.65 59.25h1.5M755.45 59.25h-1.5M622.65 65.93h1.5M755.45 65.93h-1.5M622.65 72.61h2.8M755.45 72.61h-2.8M622.65 79.29h1.5M755.45 79.29h-1.5M622.65 85.96h1.5M755.45 85.96h-1.5M622.65 92.64h1.5M755.45 92.64h-1.5M622.65 99.32h1.5M755.45 99.32h-1.5M622.65 106h2.8M755.45 106h-2.8M622.65 112.68h1.5M755.45 112.68h-1.5M622.65 119.36h1.5M755.45 119.36h-1.5M622.65 126.04h1.5M755.45 126.04h-1.5M622.65 132.71h1.5M755.45 132.71h-1.5M622.65 139.39h2.8M755.45 139.39h-2.8M622.65 146.07h1.5M755.45 146.07h-1.5"/>
<clipPath id="c3"><rect x="622.65" y="12.5" width="132.8" height="140.25"/></clipPath>
<g class="d" clip-path="url(#c3)"><circle cx="641.69" cy="32.74" r="2.5"/><circle cx="708.09" cy="32.74" r="2.5"/><circle cx="643.26" cy="31.16" r="2.5"/><circle cx="709.66" cy="31.16" r="2.5"/><circle cx="644.84" cy="29.05" r="2.5"/><circle cx="711.24" cy="29.05" r="2.5"/><circle cx="646.42" cy="27.47" r="2.5"/><circle cx="712.82" cy="27.47" r="2.5"/><circle cx="648" cy="25.9" r="2.5"/><circle cx="714.4" cy="25.9" r="2.5"/><circle cx="649.58" cy="24.63" r="2.5"/><circle cx="715.98" cy="24.63" r="2.5"/><circle cx="651.69" cy="26.42" r="2.5"/><circle cx="718.09" cy="26.42" r="2.5"/><circle cx="653.26" cy="26.42" r="2.5"/><circle cx="719.66" cy="26.42" r="2.5"/><circle cx="654.84" cy="24.84" r="2.5"/><circle cx="721.24" cy="24.84" r="2.5"/><circle cx="656.1" cy="25.37" r="2.5"/><circle cx="722.5" cy="25.37" r="2.5"/><circle cx="657.48" cy="31.69" r="2.5"/><circle cx="723.88" cy="31.69" r="2.5"/><circle cx="658.21" cy="33.58" r="2.5"/><circle cx="724.61" cy="33.58" r="2.5"/><circle cx="659.05" cy="35.58" r="2.5"/><circle cx="725.45" cy="35.58" r="2.5"/><circle cx="659.79" cy="37.47" r="2.5"/><circle cx="726.19" cy="37.47" r="2.5"/><circle cx="660.63" cy="39.58" r="2.5"/><circle cx="727.03" cy="39.58" r="2.5"/><circle cx="664.32" cy="44.84" r="2.5"/><circle cx="730.72" cy="44.84" r="2.5"/><circle cx="664.84" cy="48.52" r="2.5"/><circle cx="731.24" cy="48.52" r="2.5"/><circle cx="665.9" cy="51.16" r="2.5"/><circle cx="732.3" cy="51.16" r="2.5"/><circle cx="666.95" cy="53.79" r="2.5"/><circle cx="733.35" cy="53.79" r="2.5"/><circle cx="669.05" cy="58.53" r="2.5"/><circle cx="735.45" cy="58.53" r="2.5"/><circle cx="670.63" cy="60.1" r="2.5"/><circle cx="737.03" cy="60.1" r="2.5"/><circle cx="672.21" cy="62.21" r="2.5"/><circle cx="738.61" cy="62.21" r="2.5"/><circle cx="673.26" cy="64.84" r="2.5"/><circle cx="739.66" cy="64.84" r="2.5"/><circle cx="640.63" cy="36.95" r="2.5"/><circle cx="707.03" cy="36.95" r="2.5"/><circle cx="639.58" cy="39.05" r="2.5"/><circle cx="705.98" cy="39.05" r="2.5"/><circle cx="638.84" cy="40.84" r="2.5"/><circle cx="705.24" cy="40.84" r="2.5"/><circle cx="634.32" cy="58.53" r="2.5"/><circle cx="700.72" cy="58.53" r="2.5"/><circle cx="633.79" cy="61.16" r="2.5"/><circle cx="700.19" cy="61.16" r="2.5"/><circle cx="633.26" cy="63.79" r="2.5"/><circle cx="699.66" cy="63.79" r="2.5"/><circle cx="634.84" cy="60.53" r="2.5"/><circle cx="701.24" cy="60.53" r="2.5"/><circle cx="634.32" cy="62.32" r="2.5"/><circle cx="700.72" cy="62.32" r="2.5"/><circle cx="633.79" cy="64.21" r="2.5"/><circle cx="700.19" cy="64.21" r="2.5"/><circle cx="633.26" cy="66.1" r="2.5"/><circle cx="699.66" cy="66.1" r="2.5"/><circle cx="632.74" cy="67.89" r="2.5"/><circle cx="699.14" cy="67.89" r="2.5"/><circle cx="632.21" cy="69.47" r="2.5"/><circle cx="698.61" cy="69.47" r="2.5"/><circle cx="631.69" cy="74.74" r="2.5"/><circle cx="698.09" cy="74.74" r="2.5"/><circle cx="630.84" cy="83.37" r="2.5"/><circle cx="697.24" cy="83.37" r="2.5"/><circle cx="630.11" cy="89.79" r="2.5"/><circle cx="696.51" cy="89.79" r="2.5"/><circle cx="627.79" cy="102.95" r="2.5"/><circle cx="694.19" cy="102.95" r="2.5"/><circle cx="623.79" cy="112.63" r="2.5"/><circle cx="690.19" cy="112.63" r="2.5"/><circle cx="670.11" cy="61.05" r="2.5"/><circle cx="736.51" cy="61.05" r="2.5"/><circle cx="671.69" cy="63.16" r="2.5"/><circle cx="738.09" cy="63.16" r="2.5"/><circle cx="673.26" cy="65.26" r="2.5"/><circle cx="739.66" cy="65.26" r="2.5"/><circle cx="675.68" cy="76.84" r="2.5"/><circle cx="742.08" cy="76.84" r="2.5"/><circle cx="676.42" cy="81.06" r="2.5"/><circle cx="742.82" cy="81.06" r="2.5"/><circle cx="677.48" cy="84.95" r="2.5"/><circle cx="743.88" cy="84.95" r="2.5"/><circle cx="685.9" cy="112.1" r="2.5"/><circle cx="752.3" cy="112.1" r="2.5"/><circle cx="686.95" cy="113.47" r="2.5"/><circle cx="753.35" cy="113.47" r="2.5"/><circle cx="688.31" cy="114.31" r="2.5"/><circle cx="754.71" cy="114.31" r="2.5"/><circle cx="636.5" cy="48.8" r="2.5"/><circle cx="702.9" cy="48.8" r="2.5"/><circle cx="635.5" cy="53.2" r="2.5"/><circle cx="701.9" cy="53.2" r="2.5"/></g>
<rect class="ax" x="622.65" y="12.5" width="132.8" height="140.25"/>
<path class="mw" d="M689.05 12.5V152.75"/>
<text class="k" transform="translate(622.45 165.25) scale(1 1.08)">0.0</text>
<text class="k" transform="translate(655.65 165.25) scale(1 1.08)">0.5</text>
<text class="k" transform="translate(688.85 165.25) scale(1 1.08)">1.0</text>
<text class="k" transform="translate(722.05 165.25) scale(1 1.08)">1.5</text>
<text class="k" transform="translate(755.25 165.25) scale(1 1.08)">2.0</text>
<text class="y" transform="translate(620.25 42.91) scale(1 1.08)">14.5</text>
<text class="y" transform="translate(620.25 76.31) scale(1 1.08)">15.0</text>
<text class="y" transform="translate(620.25 109.7) scale(1 1.08)">15.5</text>
<text class="y" transform="translate(620.25 143.09) scale(1 1.08)">16.0</text>
<text class="l" transform="translate(688.75 175.15) scale(1 1.08)">Phase (P = 0.693264 d)</text>
<text class="l" transform="translate(595.05 82.62) rotate(-90)">R magnitude</text>
</g>
<g>
<text class="t" x="100.28" y="195.1">R Filter January 2010</text>
<path class="tk" d="M41.11 339.75v-1.5M41.11 199.5v1.5M47.72 339.75v-1.5M47.72 199.5v1.5M54.32 339.75v-1.5M54.32 199.5v1.5M60.93 339.75v-1.5M60.93 199.5v1.5M67.54 339.75v-2.8M67.54 199.5v2.8M74.15 339.75v-1.5M74.15 199.5v1.5M80.75 339.75v-1.5M80.75 199.5v1.5M87.36 339.75v-1.5M87.36 199.5v1.5M93.97 339.75v-1.5M93.97 199.5v1.5M100.58 339.75v-2.8M100.58 199.5v2.8M107.18 339.75v-1.5M107.18 199.5v1.5M113.79 339.75v-1.5M113.79 199.5v1.5M120.4 339.75v-1.5M120.4 199.5v1.5M127.01 339.75v-1.5M127.01 199.5v1.5M133.61 339.75v-2.8M133.61 199.5v2.8M140.22 339.75v-1.5M140.22 199.5v1.5M146.83 339.75v-1.5M146.83 199.5v1.5M153.44 339.75v-1.5M153.44 199.5v1.5M160.04 339.75v-1.5M160.04 199.5v1.5M34.5 206.18h1.5M166.65 206.18h-1.5M34.5 212.86h1.5M166.65 212.86h-1.5M34.5 219.54h1.5M166.65 219.54h-1.5M34.5 226.21h2.8M166.65 226.21h-2.8M34.5 232.89h1.5M166.65 232.89h-1.5M34.5 239.57h1.5M166.65 239.57h-1.5M34.5 246.25h1.5M166.65 246.25h-1.5M34.5 252.93h1.5M166.65 252.93h-1.5M34.5 259.61h2.8M166.65 259.61h-2.8M34.5 266.29h1.5M166.65 266.29h-1.5M34.5 272.96h1.5M166.65 272.96h-1.5M34.5 279.64h1.5M166.65 279.64h-1.5M34.5 286.32h1.5M166.65 286.32h-1.5M34.5 293h2.8M166.65 293h-2.8M34.5 299.68h1.5M166.65 299.68h-1.5M34.5 306.36h1.5M166.65 306.36h-1.5M34.5 313.04h1.5M166.65 313.04h-1.5M34.5 319.71h1.5M166.65 319.71h-1.5M34.5 326.39h2.8M166.65 326.39h-2.8M34.5 333.07h1.5M166.65 333.07h-1.5"/>
<clipPath id="c4"><rect x="34.5" y="199.5" width="132.15" height="140.25"/></clipPath>
<g class="d" clip-path="url(#c4)"><circle cx="65.05" cy="222.58" r="2.5"/><circle cx="131.13" cy="222.58" r="2.5"/><circle cx="66.63" cy="225" r="2.5"/><circle cx="132.71" cy="225" r="2.5"/><circle cx="70.52" cy="230.79" r="2.5"/><circle cx="136.6" cy="230.79" r="2.5"/><circle cx="71.26" cy="233.42" r="2.5"/><circle cx="137.34" cy="233.42" r="2.5"/><circle cx="72.31" cy="236.58" r="2.5"/><circle cx="138.39" cy="236.58" r="2.5"/><circle cx="73.68" cy="239.21" r="2.5"/><circle cx="139.76" cy="239.21" r="2.5"/><circle cx="75.26" cy="238.68" r="2.5"/><circle cx="141.34" cy="238.68" r="2.5"/><circle cx="76.32" cy="241.84" r="2.5"/><circle cx="142.39" cy="241.84" r="2.5"/><circle cx="77.37" cy="244.47" r="2.5"/><circle cx="143.44" cy="244.47" r="2.5"/><circle cx="79.27" cy="249.21" r="2.5"/><circle cx="145.34" cy="249.21" r="2.5"/><circle cx="49.47" cy="246.58" r="2.5"/><circle cx="115.55" cy="246.58" r="2.5"/><circle cx="46.84" cy="259.69" r="2.5"/><circle cx="112.92" cy="259.69" r="2.5"/><circle cx="44.74" cy="271.37" r="2.5"/><circle cx="110.81" cy="271.37" r="2.5"/><circle cx="43.9" cy="276.52" r="2.5"/><circle cx="109.97" cy="276.52" r="2.5"/><circle cx="42.85" cy="283.16" r="2.5"/><circle cx="108.92" cy="283.16" r="2.5"/></g>
<rect class="ax" x="34.5" y="199.5" width="132.15" height="140.25"/>
<path class="ml" d="M100.5 199.5V339.75"/>
<text class="k" transform="translate(34.3 352.25) scale(1 1.08)">0.0</text>
<text class="k" transform="translate(67.34 352.25) scale(1 1.08)">0.5</text>
<text class="k" transform="translate(100.38 352.25) scale(1 1.08)">1.0</text>
<text class="k" transform="translate(133.41 352.25) scale(1 1.08)">1.5</text>
<text class="k" transform="translate(166.45 352.25) scale(1 1.08)">2.0</text>
<text class="y" transform="translate(32.1 229.91) scale(1 1.08)">14.5</text>
<text class="y" transform="translate(32.1 263.31) scale(1 1.08)">15.0</text>
<text class="y" transform="translate(32.1 296.7) scale(1 1.08)">15.5</text>
<text class="y" transform="translate(32.1 330.09) scale(1 1.08)">16.0</text>
<text class="l" transform="translate(100.28 362.15) scale(1 1.08)">Phase (P = 0.693264 d)</text>
<text class="l" transform="translate(6.9 269.62) rotate(-90)">R magnitude</text>
</g>
<g>
<text class="t" x="296.43" y="195.1">R Filter January 2011</text>
<path class="tk" d="M237.08 339.75v-1.5M237.08 199.5v1.5M243.7 339.75v-1.5M243.7 199.5v1.5M250.33 339.75v-1.5M250.33 199.5v1.5M256.96 339.75v-1.5M256.96 199.5v1.5M263.59 339.75v-2.8M263.59 199.5v2.8M270.21 339.75v-1.5M270.21 199.5v1.5M276.84 339.75v-1.5M276.84 199.5v1.5M283.47 339.75v-1.5M283.47 199.5v1.5M290.1 339.75v-1.5M290.1 199.5v1.5M296.73 339.75v-2.8M296.73 199.5v2.8M303.35 339.75v-1.5M303.35 199.5v1.5M309.98 339.75v-1.5M309.98 199.5v1.5M316.61 339.75v-1.5M316.61 199.5v1.5M323.24 339.75v-1.5M323.24 199.5v1.5M329.86 339.75v-2.8M329.86 199.5v2.8M336.49 339.75v-1.5M336.49 199.5v1.5M343.12 339.75v-1.5M343.12 199.5v1.5M349.75 339.75v-1.5M349.75 199.5v1.5M356.37 339.75v-1.5M356.37 199.5v1.5M230.45 206.18h1.5M363 206.18h-1.5M230.45 212.86h1.5M363 212.86h-1.5M230.45 219.54h1.5M363 219.54h-1.5M230.45 226.21h2.8M363 226.21h-2.8M230.45 232.89h1.5M363 232.89h-1.5M230.45 239.57h1.5M363 239.57h-1.5M230.45 246.25h1.5M363 246.25h-1.5M230.45 252.93h1.5M363 252.93h-1.5M230.45 259.61h2.8M363 259.61h-2.8M230.45 266.29h1.5M363 266.29h-1.5M230.45 272.96h1.5M363 272.96h-1.5M230.45 279.64h1.5M363 279.64h-1.5M230.45 286.32h1.5M363 286.32h-1.5M230.45 293h2.8M363 293h-2.8M230.45 299.68h1.5M363 299.68h-1.5M230.45 306.36h1.5M363 306.36h-1.5M230.45 313.04h1.5M363 313.04h-1.5M230.45 319.71h1.5M363 319.71h-1.5M230.45 326.39h2.8M363 326.39h-2.8M230.45 333.07h1.5M363 333.07h-1.5"/>
<clipPath id="c5"><rect x="230.45" y="199.5" width="132.55" height="140.25"/></clipPath>
<g class="d" clip-path="url(#c5)"><circle cx="258.63" cy="221.84" r="2.5"/><circle cx="324.91" cy="221.84" r="2.5"/><circle cx="251.79" cy="222.58" r="2.5"/><circle cx="318.07" cy="222.58" r="2.5"/><circle cx="253.16" cy="223.42" r="2.5"/><circle cx="319.43" cy="223.42" r="2.5"/><circle cx="250.74" cy="225" r="2.5"/><circle cx="317.01" cy="225" r="2.5"/><circle cx="249.37" cy="226.58" r="2.5"/><circle cx="315.65" cy="226.58" r="2.5"/><circle cx="247.58" cy="235.32" r="2.5"/><circle cx="313.86" cy="235.32" r="2.5"/><circle cx="246.21" cy="241.63" r="2.5"/><circle cx="312.49" cy="241.63" r="2.5"/><circle cx="244.42" cy="247.32" r="2.5"/><circle cx="310.7" cy="247.32" r="2.5"/><circle cx="273.58" cy="244.47" r="2.5"/><circle cx="339.86" cy="244.47" r="2.5"/><circle cx="274.63" cy="246.58" r="2.5"/><circle cx="340.9" cy="246.58" r="2.5"/><circle cx="275.68" cy="248.68" r="2.5"/><circle cx="341.96" cy="248.68" r="2.5"/><circle cx="276.74" cy="250.58" r="2.5"/><circle cx="343.01" cy="250.58" r="2.5"/><circle cx="278.11" cy="255.79" r="2.5"/><circle cx="344.38" cy="255.79" r="2.5"/><circle cx="279.16" cy="257.9" r="2.5"/><circle cx="345.43" cy="257.9" r="2.5"/><circle cx="280.21" cy="260.53" r="2.5"/><circle cx="346.48" cy="260.53" r="2.5"/><circle cx="280.94" cy="262.63" r="2.5"/><circle cx="347.22" cy="262.63" r="2.5"/><circle cx="281.79" cy="264.74" r="2.5"/><circle cx="348.06" cy="264.74" r="2.5"/><circle cx="282.84" cy="268.42" r="2.5"/><circle cx="349.12" cy="268.42" r="2.5"/><circle cx="284.11" cy="271.05" r="2.5"/><circle cx="350.38" cy="271.05" r="2.5"/><circle cx="285.16" cy="276.1" r="2.5"/><circle cx="351.44" cy="276.1" r="2.5"/><circle cx="285.78" cy="281.9" r="2.5"/><circle cx="352.05" cy="281.9" r="2.5"/><circle cx="286.57" cy="283.76" r="2.5"/><circle cx="352.85" cy="283.76" r="2.5"/><circle cx="286.85" cy="285.75" r="2.5"/><circle cx="353.13" cy="285.75" r="2.5"/><circle cx="287.55" cy="287.63" r="2.5"/><circle cx="353.83" cy="287.63" r="2.5"/><circle cx="288.2" cy="289.53" r="2.5"/><circle cx="354.48" cy="289.53" r="2.5"/><circle cx="288.29" cy="291.58" r="2.5"/><circle cx="354.57" cy="291.58" r="2.5"/><circle cx="289.26" cy="293.37" r="2.5"/><circle cx="355.54" cy="293.37" r="2.5"/><circle cx="289.72" cy="295.32" r="2.5"/><circle cx="355.99" cy="295.32" r="2.5"/><circle cx="290.24" cy="297.26" r="2.5"/><circle cx="356.52" cy="297.26" r="2.5"/><circle cx="290.42" cy="297.37" r="2.5"/><circle cx="356.7" cy="297.37" r="2.5"/><circle cx="289.65" cy="296.59" r="2.5"/><circle cx="355.93" cy="296.59" r="2.5"/><circle cx="290.29" cy="298.49" r="2.5"/><circle cx="356.56" cy="298.49" r="2.5"/><circle cx="290.68" cy="300.45" r="2.5"/><circle cx="356.96" cy="300.45" r="2.5"/><circle cx="291.14" cy="302.4" r="2.5"/><circle cx="357.42" cy="302.4" r="2.5"/><circle cx="291.44" cy="304.38" r="2.5"/><circle cx="357.72" cy="304.38" r="2.5"/><circle cx="292.27" cy="306.24" r="2.5"/><circle cx="358.55" cy="306.24" r="2.5"/><circle cx="292.11" cy="306.58" r="2.5"/><circle cx="358.38" cy="306.58" r="2.5"/><circle cx="294.42" cy="307.63" r="2.5"/><circle cx="360.69" cy="307.63" r="2.5"/><circle cx="296" cy="311.84" r="2.5"/><circle cx="362.28" cy="311.84" r="2.5"/><circle cx="230.46" cy="310.79" r="2.5"/><circle cx="296.74" cy="310.79" r="2.5"/><circle cx="363.01" cy="310.79" r="2.5"/><circle cx="231.47" cy="310.58" r="2.5"/><circle cx="297.75" cy="310.58" r="2.5"/><circle cx="293.37" cy="306.05" r="2.5"/><circle cx="359.65" cy="306.05" r="2.5"/></g>
<rect class="ax" x="230.45" y="199.5" width="132.55" height="140.25"/>
<path class="ml" d="M296.5 199.5V339.75"/>
<text class="k" transform="translate(230.25 352.25) scale(1 1.08)">0.0</text>
<text class="k" transform="translate(263.39 352.25) scale(1 1.08)">0.5</text>
<text class="k" transform="translate(296.53 352.25) scale(1 1.08)">1.0</text>
<text class="k" transform="translate(329.66 352.25) scale(1 1.08)">1.5</text>
<text class="k" transform="translate(362.8 352.25) scale(1 1.08)">2.0</text>
<text class="y" transform="translate(228.05 229.91) scale(1 1.08)">14.5</text>
<text class="y" transform="translate(228.05 263.31) scale(1 1.08)">15.0</text>
<text class="y" transform="translate(228.05 296.7) scale(1 1.08)">15.5</text>
<text class="y" transform="translate(228.05 330.09) scale(1 1.08)">16.0</text>
<text class="l" transform="translate(296.43 362.15) scale(1 1.08)">Phase (P = 0.693264 d)</text>
<text class="l" transform="translate(202.85 269.62) rotate(-90)">R magnitude</text>
</g>
<g>
<text class="t" x="492.43" y="195.1">R Filter October 2011</text>
<path class="tk" d="M433.12 339.75v-1.5M433.12 199.5v1.5M439.75 339.75v-1.5M439.75 199.5v1.5M446.37 339.75v-1.5M446.37 199.5v1.5M452.99 339.75v-1.5M452.99 199.5v1.5M459.61 339.75v-2.8M459.61 199.5v2.8M466.24 339.75v-1.5M466.24 199.5v1.5M472.86 339.75v-1.5M472.86 199.5v1.5M479.48 339.75v-1.5M479.48 199.5v1.5M486.1 339.75v-1.5M486.1 199.5v1.5M492.73 339.75v-2.8M492.73 199.5v2.8M499.35 339.75v-1.5M499.35 199.5v1.5M505.97 339.75v-1.5M505.97 199.5v1.5M512.59 339.75v-1.5M512.59 199.5v1.5M519.22 339.75v-1.5M519.22 199.5v1.5M525.84 339.75v-2.8M525.84 199.5v2.8M532.46 339.75v-1.5M532.46 199.5v1.5M539.08 339.75v-1.5M539.08 199.5v1.5M545.71 339.75v-1.5M545.71 199.5v1.5M552.33 339.75v-1.5M552.33 199.5v1.5M426.5 206.18h1.5M558.95 206.18h-1.5M426.5 212.86h1.5M558.95 212.86h-1.5M426.5 219.54h1.5M558.95 219.54h-1.5M426.5 226.21h2.8M558.95 226.21h-2.8M426.5 232.89h1.5M558.95 232.89h-1.5M426.5 239.57h1.5M558.95 239.57h-1.5M426.5 246.25h1.5M558.95 246.25h-1.5M426.5 252.93h1.5M558.95 252.93h-1.5M426.5 259.61h2.8M558.95 259.61h-2.8M426.5 266.29h1.5M558.95 266.29h-1.5M426.5 272.96h1.5M558.95 272.96h-1.5M426.5 279.64h1.5M558.95 279.64h-1.5M426.5 286.32h1.5M558.95 286.32h-1.5M426.5 293h2.8M558.95 293h-2.8M426.5 299.68h1.5M558.95 299.68h-1.5M426.5 306.36h1.5M558.95 306.36h-1.5M426.5 313.04h1.5M558.95 313.04h-1.5M426.5 319.71h1.5M558.95 319.71h-1.5M426.5 326.39h2.8M558.95 326.39h-2.8M426.5 333.07h1.5M558.95 333.07h-1.5"/>
<clipPath id="c6"><rect x="426.5" y="199.5" width="132.45" height="140.25"/></clipPath>
<g class="d" clip-path="url(#c6)"><circle cx="446.42" cy="240.05" r="2.5"/><circle cx="512.65" cy="240.05" r="2.5"/><circle cx="444.31" cy="243.95" r="2.5"/><circle cx="510.54" cy="243.95" r="2.5"/><circle cx="449.9" cy="228.16" r="2.5"/><circle cx="516.12" cy="228.16" r="2.5"/><circle cx="452" cy="229.21" r="2.5"/><circle cx="518.23" cy="229.21" r="2.5"/><circle cx="453.58" cy="228.69" r="2.5"/><circle cx="519.8" cy="228.69" r="2.5"/><circle cx="455.16" cy="229.73" r="2.5"/><circle cx="521.38" cy="229.73" r="2.5"/><circle cx="456.74" cy="231.32" r="2.5"/><circle cx="522.96" cy="231.32" r="2.5"/><circle cx="458.31" cy="230.26" r="2.5"/><circle cx="524.54" cy="230.26" r="2.5"/><circle cx="451.47" cy="231.32" r="2.5"/><circle cx="517.7" cy="231.32" r="2.5"/><circle cx="449.16" cy="229.73" r="2.5"/><circle cx="515.38" cy="229.73" r="2.5"/><circle cx="449.37" cy="234.48" r="2.5"/><circle cx="515.59" cy="234.48" r="2.5"/><circle cx="449.65" cy="233.73" r="2.5"/><circle cx="515.88" cy="233.73" r="2.5"/><circle cx="449.93" cy="232.97" r="2.5"/><circle cx="516.16" cy="232.97" r="2.5"/><circle cx="450.21" cy="232.23" r="2.5"/><circle cx="516.43" cy="232.23" r="2.5"/><circle cx="450.49" cy="231.48" r="2.5"/><circle cx="516.72" cy="231.48" r="2.5"/><circle cx="450.77" cy="230.73" r="2.5"/><circle cx="517" cy="230.73" r="2.5"/><circle cx="451.07" cy="229.99" r="2.5"/><circle cx="517.29" cy="229.99" r="2.5"/><circle cx="451.38" cy="229.25" r="2.5"/><circle cx="517.61" cy="229.25" r="2.5"/><circle cx="451.7" cy="228.51" r="2.5"/><circle cx="517.92" cy="228.51" r="2.5"/><circle cx="452.01" cy="227.78" r="2.5"/><circle cx="518.23" cy="227.78" r="2.5"/><circle cx="452.33" cy="227.04" r="2.5"/><circle cx="518.55" cy="227.04" r="2.5"/><circle cx="452.77" cy="226.41" r="2.5"/><circle cx="519" cy="226.41" r="2.5"/><circle cx="453.44" cy="225.97" r="2.5"/><circle cx="519.67" cy="225.97" r="2.5"/><circle cx="454.1" cy="225.53" r="2.5"/><circle cx="520.33" cy="225.53" r="2.5"/><circle cx="454.82" cy="225.88" r="2.5"/><circle cx="521.04" cy="225.88" r="2.5"/><circle cx="455.53" cy="226.24" r="2.5"/><circle cx="521.76" cy="226.24" r="2.5"/><circle cx="456.24" cy="226.62" r="2.5"/><circle cx="522.46" cy="226.62" r="2.5"/><circle cx="456.65" cy="227.3" r="2.5"/><circle cx="522.87" cy="227.3" r="2.5"/><circle cx="457.06" cy="227.99" r="2.5"/><circle cx="523.28" cy="227.99" r="2.5"/><circle cx="457.47" cy="228.67" r="2.5"/><circle cx="523.69" cy="228.67" r="2.5"/><circle cx="457.9" cy="229.35" r="2.5"/><circle cx="524.12" cy="229.35" r="2.5"/><circle cx="458.4" cy="229.97" r="2.5"/><circle cx="524.63" cy="229.97" r="2.5"/><circle cx="458.9" cy="230.6" r="2.5"/><circle cx="525.12" cy="230.6" r="2.5"/><circle cx="459.4" cy="231.22" r="2.5"/><circle cx="525.63" cy="231.22" r="2.5"/><circle cx="459.9" cy="231.84" r="2.5"/><circle cx="526.12" cy="231.84" r="2.5"/><circle cx="460.25" cy="232.56" r="2.5"/><circle cx="526.48" cy="232.56" r="2.5"/><circle cx="460.61" cy="233.28" r="2.5"/><circle cx="526.84" cy="233.28" r="2.5"/><circle cx="460.97" cy="233.99" r="2.5"/><circle cx="527.2" cy="233.99" r="2.5"/><circle cx="461.33" cy="234.71" r="2.5"/><circle cx="527.55" cy="234.71" r="2.5"/><circle cx="461.69" cy="235.42" r="2.5"/><circle cx="527.91" cy="235.42" r="2.5"/><circle cx="462.04" cy="236.14" r="2.5"/><circle cx="528.26" cy="236.14" r="2.5"/><circle cx="462.35" cy="236.88" r="2.5"/><circle cx="528.58" cy="236.88" r="2.5"/><circle cx="462.67" cy="237.61" r="2.5"/><circle cx="528.89" cy="237.61" r="2.5"/><circle cx="462.98" cy="238.35" r="2.5"/><circle cx="529.21" cy="238.35" r="2.5"/><circle cx="463.3" cy="239.08" r="2.5"/><circle cx="529.53" cy="239.08" r="2.5"/><circle cx="463.61" cy="239.82" r="2.5"/><circle cx="529.84" cy="239.82" r="2.5"/><circle cx="463.93" cy="240.55" r="2.5"/><circle cx="530.16" cy="240.55" r="2.5"/><circle cx="464.24" cy="241.29" r="2.5"/><circle cx="530.47" cy="241.29" r="2.5"/><circle cx="464.56" cy="242.02" r="2.5"/><circle cx="530.78" cy="242.02" r="2.5"/><circle cx="464.88" cy="242.76" r="2.5"/><circle cx="531.1" cy="242.76" r="2.5"/><circle cx="465.19" cy="243.5" r="2.5"/><circle cx="531.41" cy="243.5" r="2.5"/><circle cx="465.49" cy="244.24" r="2.5"/><circle cx="531.71" cy="244.24" r="2.5"/><circle cx="465.78" cy="244.98" r="2.5"/><circle cx="532.01" cy="244.98" r="2.5"/><circle cx="466.08" cy="245.72" r="2.5"/><circle cx="532.3" cy="245.72" r="2.5"/><circle cx="466.21" cy="246.05" r="2.5"/><circle cx="532.43" cy="246.05" r="2.5"/><circle cx="473.79" cy="262.42" r="2.5"/><circle cx="540.02" cy="262.42" r="2.5"/><circle cx="475.9" cy="268.21" r="2.5"/><circle cx="542.12" cy="268.21" r="2.5"/><circle cx="476.16" cy="269.07" r="2.5"/><circle cx="542.39" cy="269.07" r="2.5"/><circle cx="476.43" cy="269.93" r="2.5"/><circle cx="542.65" cy="269.93" r="2.5"/><circle cx="476.69" cy="270.79" r="2.5"/><circle cx="542.92" cy="270.79" r="2.5"/><circle cx="476.96" cy="271.65" r="2.5"/><circle cx="543.18" cy="271.65" r="2.5"/><circle cx="477.23" cy="272.51" r="2.5"/><circle cx="543.45" cy="272.51" r="2.5"/><circle cx="477.51" cy="273.37" r="2.5"/><circle cx="543.73" cy="273.37" r="2.5"/><circle cx="477.79" cy="274.22" r="2.5"/><circle cx="544.02" cy="274.22" r="2.5"/><circle cx="478.08" cy="275.07" r="2.5"/><circle cx="544.3" cy="275.07" r="2.5"/><circle cx="478.36" cy="275.92" r="2.5"/><circle cx="544.59" cy="275.92" r="2.5"/><circle cx="478.65" cy="276.78" r="2.5"/><circle cx="544.87" cy="276.78" r="2.5"/><circle cx="478.93" cy="277.63" r="2.5"/><circle cx="545.16" cy="277.63" r="2.5"/><circle cx="479.22" cy="278.49" r="2.5"/><circle cx="545.44" cy="278.49" r="2.5"/><circle cx="479.5" cy="279.34" r="2.5"/><circle cx="545.72" cy="279.34" r="2.5"/><circle cx="479.78" cy="280.2" r="2.5"/><circle cx="546.01" cy="280.2" r="2.5"/><circle cx="480.07" cy="281.05" r="2.5"/><circle cx="546.29" cy="281.05" r="2.5"/><circle cx="480.35" cy="281.9" r="2.5"/><circle cx="546.58" cy="281.9" r="2.5"/><circle cx="480.73" cy="282.72" r="2.5"/><circle cx="546.95" cy="282.72" r="2.5"/><circle cx="480.95" cy="283.16" r="2.5"/><circle cx="547.18" cy="283.16" r="2.5"/><circle cx="481.47" cy="287.9" r="2.5"/><circle cx="547.7" cy="287.9" r="2.5"/><circle cx="481.67" cy="288.77" r="2.5"/><circle cx="547.9" cy="288.77" r="2.5"/><circle cx="481.86" cy="289.65" r="2.5"/><circle cx="548.09" cy="289.65" r="2.5"/><circle cx="482.06" cy="290.53" r="2.5"/><circle cx="548.28" cy="290.53" r="2.5"/><circle cx="482.25" cy="291.41" r="2.5"/><circle cx="548.48" cy="291.41" r="2.5"/><circle cx="482.45" cy="292.29" r="2.5"/><circle cx="548.67" cy="292.29" r="2.5"/><circle cx="482.66" cy="293.16" r="2.5"/><circle cx="548.88" cy="293.16" r="2.5"/><circle cx="482.88" cy="294.04" r="2.5"/><circle cx="549.1" cy="294.04" r="2.5"/><circle cx="483.1" cy="294.91" r="2.5"/><circle cx="549.32" cy="294.91" r="2.5"/><circle cx="483.31" cy="295.78" r="2.5"/><circle cx="549.54" cy="295.78" r="2.5"/><circle cx="483.53" cy="296.65" r="2.5"/><circle cx="549.76" cy="296.65" r="2.5"/><circle cx="483.58" cy="296.84" r="2.5"/><circle cx="549.8" cy="296.84" r="2.5"/><circle cx="482.21" cy="292.58" r="2.5"/><circle cx="548.43" cy="292.58" r="2.5"/><circle cx="482.39" cy="293.46" r="2.5"/><circle cx="548.62" cy="293.46" r="2.5"/><circle cx="482.58" cy="294.34" r="2.5"/><circle cx="548.8" cy="294.34" r="2.5"/><circle cx="482.76" cy="295.22" r="2.5"/><circle cx="548.99" cy="295.22" r="2.5"/><circle cx="482.95" cy="296.1" r="2.5"/><circle cx="549.18" cy="296.1" r="2.5"/><circle cx="483.14" cy="296.98" r="2.5"/><circle cx="549.36" cy="296.98" r="2.5"/><circle cx="483.31" cy="297.87" r="2.5"/><circle cx="549.53" cy="297.87" r="2.5"/><circle cx="483.49" cy="298.75" r="2.5"/><circle cx="549.71" cy="298.75" r="2.5"/><circle cx="483.67" cy="299.63" r="2.5"/><circle cx="549.89" cy="299.63" r="2.5"/><circle cx="483.84" cy="300.51" r="2.5"/><circle cx="550.06" cy="300.51" r="2.5"/><circle cx="484.02" cy="301.39" r="2.5"/><circle cx="550.24" cy="301.39" r="2.5"/><circle cx="484.22" cy="302.28" r="2.5"/><circle cx="550.44" cy="302.28" r="2.5"/><circle cx="484.43" cy="303.14" r="2.5"/><circle cx="550.66" cy="303.14" r="2.5"/><circle cx="484.65" cy="304.02" r="2.5"/><circle cx="550.88" cy="304.02" r="2.5"/><circle cx="484.87" cy="304.89" r="2.5"/><circle cx="551.1" cy="304.89" r="2.5"/><circle cx="485.09" cy="305.77" r="2.5"/><circle cx="551.31" cy="305.77" r="2.5"/><circle cx="485.38" cy="306.61" r="2.5"/><circle cx="551.61" cy="306.61" r="2.5"/><circle cx="485.72" cy="307.45" r="2.5"/><circle cx="551.94" cy="307.45" r="2.5"/><circle cx="486.05" cy="308.29" r="2.5"/><circle cx="552.27" cy="308.29" r="2.5"/><circle cx="486.21" cy="308.68" r="2.5"/><circle cx="552.43" cy="308.68" r="2.5"/><circle cx="484.95" cy="307.63" r="2.5"/><circle cx="551.18" cy="307.63" r="2.5"/><circle cx="486.42" cy="307.11" r="2.5"/><circle cx="552.65" cy="307.11" r="2.5"/><circle cx="487.05" cy="316.05" r="2.5"/><circle cx="553.27" cy="316.05" r="2.5"/><circle cx="487.79" cy="319.21" r="2.5"/><circle cx="554.02" cy="319.21" r="2.5"/><circle cx="488.84" cy="321.84" r="2.5"/><circle cx="555.07" cy="321.84" r="2.5"/><circle cx="490.42" cy="324.48" r="2.5"/><circle cx="556.65" cy="324.48" r="2.5"/><circle cx="490.95" cy="328.48" r="2.5"/><circle cx="557.18" cy="328.48" r="2.5"/><circle cx="426.51" cy="333.63" r="2.5"/><circle cx="492.74" cy="333.63" r="2.5"/><circle cx="558.96" cy="333.63" r="2.5"/><circle cx="428.41" cy="333.95" r="2.5"/><circle cx="494.63" cy="333.95" r="2.5"/></g>
<rect class="ax" x="426.5" y="199.5" width="132.45" height="140.25"/>
<path class="mw" d="M492.95 199.5V339.75"/>
<text class="k" transform="translate(426.3 352.25) scale(1 1.08)">0.0</text>
<text class="k" transform="translate(459.41 352.25) scale(1 1.08)">0.5</text>
<text class="k" transform="translate(492.53 352.25) scale(1 1.08)">1.0</text>
<text class="k" transform="translate(525.64 352.25) scale(1 1.08)">1.5</text>
<text class="k" transform="translate(558.75 352.25) scale(1 1.08)">2.0</text>
<text class="y" transform="translate(424.1 229.91) scale(1 1.08)">14.5</text>
<text class="y" transform="translate(424.1 263.31) scale(1 1.08)">15.0</text>
<text class="y" transform="translate(424.1 296.7) scale(1 1.08)">15.5</text>
<text class="y" transform="translate(424.1 330.09) scale(1 1.08)">16.0</text>
<text class="l" transform="translate(492.43 362.15) scale(1 1.08)">Phase (P = 0.693264 d)</text>
<text class="l" transform="translate(398.9 269.62) rotate(-90)">R magnitude</text>
</g>
<g>
<text class="t" x="688.75" y="195.1">R Filter October 2012</text>
<path class="tk" d="M629.29 339.75v-1.5M629.29 199.5v1.5M635.93 339.75v-1.5M635.93 199.5v1.5M642.57 339.75v-1.5M642.57 199.5v1.5M649.21 339.75v-1.5M649.21 199.5v1.5M655.85 339.75v-2.8M655.85 199.5v2.8M662.49 339.75v-1.5M662.49 199.5v1.5M669.13 339.75v-1.5M669.13 199.5v1.5M675.77 339.75v-1.5M675.77 199.5v1.5M682.41 339.75v-1.5M682.41 199.5v1.5M689.05 339.75v-2.8M689.05 199.5v2.8M695.69 339.75v-1.5M695.69 199.5v1.5M702.33 339.75v-1.5M702.33 199.5v1.5M708.97 339.75v-1.5M708.97 199.5v1.5M715.61 339.75v-1.5M715.61 199.5v1.5M722.25 339.75v-2.8M722.25 199.5v2.8M728.89 339.75v-1.5M728.89 199.5v1.5M735.53 339.75v-1.5M735.53 199.5v1.5M742.17 339.75v-1.5M742.17 199.5v1.5M748.81 339.75v-1.5M748.81 199.5v1.5M622.65 206.18h1.5M755.45 206.18h-1.5M622.65 212.86h1.5M755.45 212.86h-1.5M622.65 219.54h1.5M755.45 219.54h-1.5M622.65 226.21h2.8M755.45 226.21h-2.8M622.65 232.89h1.5M755.45 232.89h-1.5M622.65 239.57h1.5M755.45 239.57h-1.5M622.65 246.25h1.5M755.45 246.25h-1.5M622.65 252.93h1.5M755.45 252.93h-1.5M622.65 259.61h2.8M755.45 259.61h-2.8M622.65 266.29h1.5M755.45 266.29h-1.5M622.65 272.96h1.5M755.45 272.96h-1.5M622.65 279.64h1.5M755.45 279.64h-1.5M622.65 286.32h1.5M755.45 286.32h-1.5M622.65 293h2.8M755.45 293h-2.8M622.65 299.68h1.5M755.45 299.68h-1.5M622.65 306.36h1.5M755.45 306.36h-1.5M622.65 313.04h1.5M755.45 313.04h-1.5M622.65 319.71h1.5M755.45 319.71h-1.5M622.65 326.39h2.8M755.45 326.39h-2.8M622.65 333.07h1.5M755.45 333.07h-1.5"/>
<clipPath id="c7"><rect x="622.65" y="199.5" width="132.8" height="140.25"/></clipPath>
<g class="d" clip-path="url(#c7)"><circle cx="645.9" cy="225.53" r="2.5"/><circle cx="712.3" cy="225.53" r="2.5"/><circle cx="647.48" cy="227.1" r="2.5"/><circle cx="713.88" cy="227.1" r="2.5"/><circle cx="646.42" cy="228.47" r="2.5"/><circle cx="712.82" cy="228.47" r="2.5"/><circle cx="644.84" cy="229.21" r="2.5"/><circle cx="711.24" cy="229.21" r="2.5"/><circle cx="644.1" cy="230.26" r="2.5"/><circle cx="710.5" cy="230.26" r="2.5"/><circle cx="645.58" cy="230.26" r="2.5"/><circle cx="711.98" cy="230.26" r="2.5"/><circle cx="646.95" cy="226.58" r="2.5"/><circle cx="713.35" cy="226.58" r="2.5"/><circle cx="645.16" cy="227.42" r="2.5"/><circle cx="711.56" cy="227.42" r="2.5"/><circle cx="641.69" cy="235.84" r="2.5"/><circle cx="708.09" cy="235.84" r="2.5"/><circle cx="657.68" cy="232.37" r="2.5"/><circle cx="724.08" cy="232.37" r="2.5"/><circle cx="658.11" cy="233.95" r="2.5"/><circle cx="724.51" cy="233.95" r="2.5"/><circle cx="658.53" cy="235.52" r="2.5"/><circle cx="724.93" cy="235.52" r="2.5"/><circle cx="664.84" cy="245" r="2.5"/><circle cx="731.24" cy="245" r="2.5"/><circle cx="665.9" cy="247.1" r="2.5"/><circle cx="732.3" cy="247.1" r="2.5"/><circle cx="666.95" cy="249.21" r="2.5"/><circle cx="733.35" cy="249.21" r="2.5"/><circle cx="638" cy="249.48" r="2.5"/><circle cx="704.4" cy="249.48" r="2.5"/><circle cx="636.95" cy="252.42" r="2.5"/><circle cx="703.35" cy="252.42" r="2.5"/><circle cx="636.1" cy="254.74" r="2.5"/><circle cx="702.5" cy="254.74" r="2.5"/><circle cx="635.37" cy="256.84" r="2.5"/><circle cx="701.77" cy="256.84" r="2.5"/><circle cx="668.74" cy="254.21" r="2.5"/><circle cx="735.14" cy="254.21" r="2.5"/><circle cx="669.79" cy="256.31" r="2.5"/><circle cx="736.19" cy="256.31" r="2.5"/><circle cx="671.89" cy="263.16" r="2.5"/><circle cx="738.29" cy="263.16" r="2.5"/><circle cx="672.42" cy="264.74" r="2.5"/><circle cx="738.82" cy="264.74" r="2.5"/><circle cx="672.95" cy="266.32" r="2.5"/><circle cx="739.35" cy="266.32" r="2.5"/><circle cx="673.47" cy="267.9" r="2.5"/><circle cx="739.87" cy="267.9" r="2.5"/><circle cx="674" cy="269.47" r="2.5"/><circle cx="740.4" cy="269.47" r="2.5"/><circle cx="674.63" cy="271.37" r="2.5"/><circle cx="741.03" cy="271.37" r="2.5"/><circle cx="675.37" cy="273.16" r="2.5"/><circle cx="741.77" cy="273.16" r="2.5"/><circle cx="676" cy="274.95" r="2.5"/><circle cx="742.4" cy="274.95" r="2.5"/><circle cx="676.74" cy="276.84" r="2.5"/><circle cx="743.14" cy="276.84" r="2.5"/><circle cx="680.63" cy="291.05" r="2.5"/><circle cx="747.03" cy="291.05" r="2.5"/><circle cx="681.69" cy="293.68" r="2.5"/><circle cx="748.09" cy="293.68" r="2.5"/><circle cx="682.42" cy="301.84" r="2.5"/><circle cx="748.82" cy="301.84" r="2.5"/><circle cx="684.1" cy="306.05" r="2.5"/><circle cx="750.5" cy="306.05" r="2.5"/><circle cx="685.37" cy="308.16" r="2.5"/><circle cx="751.77" cy="308.16" r="2.5"/><circle cx="686.95" cy="307.32" r="2.5"/><circle cx="753.35" cy="307.32" r="2.5"/></g>
<rect class="ax" x="622.65" y="199.5" width="132.8" height="140.25"/>
<path class="mw" d="M689.05 199.5V339.75"/>
<text class="k" transform="translate(622.45 352.25) scale(1 1.08)">0.0</text>
<text class="k" transform="translate(655.65 352.25) scale(1 1.08)">0.5</text>
<text class="k" transform="translate(688.85 352.25) scale(1 1.08)">1.0</text>
<text class="k" transform="translate(722.05 352.25) scale(1 1.08)">1.5</text>
<text class="k" transform="translate(755.25 352.25) scale(1 1.08)">2.0</text>
<text class="y" transform="translate(620.25 229.91) scale(1 1.08)">14.5</text>
<text class="y" transform="translate(620.25 263.31) scale(1 1.08)">15.0</text>
<text class="y" transform="translate(620.25 296.7) scale(1 1.08)">15.5</text>
<text class="y" transform="translate(620.25 330.09) scale(1 1.08)">16.0</text>
<text class="l" transform="translate(688.75 362.15) scale(1 1.08)">Phase (P = 0.693264 d)</text>
<text class="l" transform="translate(595.05 269.62) rotate(-90)">R magnitude</text>
</g>
<g>
<text class="t" x="100.28" y="382.1">R Filter January 2013</text>
<path class="tk" d="M41.11 526.75v-1.5M41.11 386.5v1.5M47.72 526.75v-1.5M47.72 386.5v1.5M54.32 526.75v-1.5M54.32 386.5v1.5M60.93 526.75v-1.5M60.93 386.5v1.5M67.54 526.75v-2.8M67.54 386.5v2.8M74.15 526.75v-1.5M74.15 386.5v1.5M80.75 526.75v-1.5M80.75 386.5v1.5M87.36 526.75v-1.5M87.36 386.5v1.5M93.97 526.75v-1.5M93.97 386.5v1.5M100.58 526.75v-2.8M100.58 386.5v2.8M107.18 526.75v-1.5M107.18 386.5v1.5M113.79 526.75v-1.5M113.79 386.5v1.5M120.4 526.75v-1.5M120.4 386.5v1.5M127.01 526.75v-1.5M127.01 386.5v1.5M133.61 526.75v-2.8M133.61 386.5v2.8M140.22 526.75v-1.5M140.22 386.5v1.5M146.83 526.75v-1.5M146.83 386.5v1.5M153.44 526.75v-1.5M153.44 386.5v1.5M160.04 526.75v-1.5M160.04 386.5v1.5M34.5 393.18h1.5M166.65 393.18h-1.5M34.5 399.86h1.5M166.65 399.86h-1.5M34.5 406.54h1.5M166.65 406.54h-1.5M34.5 413.21h2.8M166.65 413.21h-2.8M34.5 419.89h1.5M166.65 419.89h-1.5M34.5 426.57h1.5M166.65 426.57h-1.5M34.5 433.25h1.5M166.65 433.25h-1.5M34.5 439.93h1.5M166.65 439.93h-1.5M34.5 446.61h2.8M166.65 446.61h-2.8M34.5 453.29h1.5M166.65 453.29h-1.5M34.5 459.96h1.5M166.65 459.96h-1.5M34.5 466.64h1.5M166.65 466.64h-1.5M34.5 473.32h1.5M166.65 473.32h-1.5M34.5 480h2.8M166.65 480h-2.8M34.5 486.68h1.5M166.65 486.68h-1.5M34.5 493.36h1.5M166.65 493.36h-1.5M34.5 500.04h1.5M166.65 500.04h-1.5M34.5 506.71h1.5M166.65 506.71h-1.5M34.5 513.39h2.8M166.65 513.39h-2.8M34.5 520.07h1.5M166.65 520.07h-1.5"/>
<clipPath id="c8"><rect x="34.5" y="386.5" width="132.15" height="140.25"/></clipPath>
<g class="d" clip-path="url(#c8)"><circle cx="54.42" cy="423.58" r="2.5"/><circle cx="120.5" cy="423.58" r="2.5"/><circle cx="55.79" cy="422.52" r="2.5"/><circle cx="121.86" cy="422.52" r="2.5"/><circle cx="58.95" cy="418.32" r="2.5"/><circle cx="125.02" cy="418.32" r="2.5"/><circle cx="60.21" cy="416.73" r="2.5"/><circle cx="126.28" cy="416.73" r="2.5"/><circle cx="62.84" cy="413.58" r="2.5"/><circle cx="128.91" cy="413.58" r="2.5"/><circle cx="64.21" cy="413.05" r="2.5"/><circle cx="130.28" cy="413.05" r="2.5"/><circle cx="65.79" cy="412" r="2.5"/><circle cx="131.86" cy="412" r="2.5"/><circle cx="63.69" cy="415.16" r="2.5"/><circle cx="129.76" cy="415.16" r="2.5"/><circle cx="65.26" cy="415.69" r="2.5"/><circle cx="131.34" cy="415.69" r="2.5"/><circle cx="66.84" cy="417.26" r="2.5"/><circle cx="132.92" cy="417.26" r="2.5"/><circle cx="68.42" cy="418.32" r="2.5"/><circle cx="134.5" cy="418.32" r="2.5"/><circle cx="69.47" cy="424.11" r="2.5"/><circle cx="135.55" cy="424.11" r="2.5"/><circle cx="70.52" cy="426.21" r="2.5"/><circle cx="136.6" cy="426.21" r="2.5"/><circle cx="71.89" cy="428.31" r="2.5"/><circle cx="137.97" cy="428.31" r="2.5"/><circle cx="89.16" cy="467.89" r="2.5"/><circle cx="155.23" cy="467.89" r="2.5"/><circle cx="90" cy="471.58" r="2.5"/><circle cx="156.08" cy="471.58" r="2.5"/><circle cx="92.32" cy="485" r="2.5"/><circle cx="158.39" cy="485" r="2.5"/><circle cx="93.15" cy="488.68" r="2.5"/><circle cx="159.23" cy="488.68" r="2.5"/><circle cx="93.68" cy="492.37" r="2.5"/><circle cx="159.76" cy="492.37" r="2.5"/><circle cx="94.73" cy="494.47" r="2.5"/><circle cx="160.81" cy="494.47" r="2.5"/><circle cx="96.31" cy="496.06" r="2.5"/><circle cx="162.39" cy="496.06" r="2.5"/><circle cx="98.42" cy="497.32" r="2.5"/><circle cx="164.5" cy="497.32" r="2.5"/><circle cx="100" cy="499" r="2.5"/><circle cx="166.08" cy="499" r="2.5"/><circle cx="94.73" cy="497.32" r="2.5"/><circle cx="160.81" cy="497.32" r="2.5"/><circle cx="95.79" cy="501.84" r="2.5"/><circle cx="161.87" cy="501.84" r="2.5"/><circle cx="96.84" cy="505.84" r="2.5"/><circle cx="162.92" cy="505.84" r="2.5"/><circle cx="38.21" cy="497.1" r="2.5"/><circle cx="104.29" cy="497.1" r="2.5"/><circle cx="37.16" cy="500.26" r="2.5"/><circle cx="103.23" cy="500.26" r="2.5"/><circle cx="37.9" cy="505" r="2.5"/><circle cx="103.97" cy="505" r="2.5"/><circle cx="36.53" cy="507.11" r="2.5"/><circle cx="102.6" cy="507.11" r="2.5"/><circle cx="35.47" cy="509.53" r="2.5"/><circle cx="101.55" cy="509.53" r="2.5"/></g>
<rect class="ax" x="34.5" y="386.5" width="132.15" height="140.25"/>
<path class="ml" d="M100.5 386.5V526.75"/>
<text class="k" transform="translate(34.3 539.25) scale(1 1.08)">0.0</text>
<text class="k" transform="translate(67.34 539.25) scale(1 1.08)">0.5</text>
<text class="k" transform="translate(100.38 539.25) scale(1 1.08)">1.0</text>
<text class="k" transform="translate(133.41 539.25) scale(1 1.08)">1.5</text>
<text class="k" transform="translate(166.45 539.25) scale(1 1.08)">2.0</text>
<text class="y" transform="translate(32.1 416.91) scale(1 1.08)">14.5</text>
<text class="y" transform="translate(32.1 450.31) scale(1 1.08)">15.0</text>
<text class="y" transform="translate(32.1 483.7) scale(1 1.08)">15.5</text>
<text class="y" transform="translate(32.1 517.09) scale(1 1.08)">16.0</text>
<text class="l" transform="translate(100.28 549.15) scale(1 1.08)">Phase (P = 0.693264 d)</text>
<text class="l" transform="translate(6.9 456.62) rotate(-90)">R magnitude</text>
</g>
<g>
<text class="t" x="296.43" y="382.1">R Filter January 2014</text>
<path class="tk" d="M237.08 526.75v-1.5M237.08 386.5v1.5M243.7 526.75v-1.5M243.7 386.5v1.5M250.33 526.75v-1.5M250.33 386.5v1.5M256.96 526.75v-1.5M256.96 386.5v1.5M263.59 526.75v-2.8M263.59 386.5v2.8M270.21 526.75v-1.5M270.21 386.5v1.5M276.84 526.75v-1.5M276.84 386.5v1.5M283.47 526.75v-1.5M283.47 386.5v1.5M290.1 526.75v-1.5M290.1 386.5v1.5M296.73 526.75v-2.8M296.73 386.5v2.8M303.35 526.75v-1.5M303.35 386.5v1.5M309.98 526.75v-1.5M309.98 386.5v1.5M316.61 526.75v-1.5M316.61 386.5v1.5M323.24 526.75v-1.5M323.24 386.5v1.5M329.86 526.75v-2.8M329.86 386.5v2.8M336.49 526.75v-1.5M336.49 386.5v1.5M343.12 526.75v-1.5M343.12 386.5v1.5M349.75 526.75v-1.5M349.75 386.5v1.5M356.37 526.75v-1.5M356.37 386.5v1.5M230.45 393.18h1.5M363 393.18h-1.5M230.45 399.86h1.5M363 399.86h-1.5M230.45 406.54h1.5M363 406.54h-1.5M230.45 413.21h2.8M363 413.21h-2.8M230.45 419.89h1.5M363 419.89h-1.5M230.45 426.57h1.5M363 426.57h-1.5M230.45 433.25h1.5M363 433.25h-1.5M230.45 439.93h1.5M363 439.93h-1.5M230.45 446.61h2.8M363 446.61h-2.8M230.45 453.29h1.5M363 453.29h-1.5M230.45 459.96h1.5M363 459.96h-1.5M230.45 466.64h1.5M363 466.64h-1.5M230.45 473.32h1.5M363 473.32h-1.5M230.45 480h2.8M363 480h-2.8M230.45 486.68h1.5M363 486.68h-1.5M230.45 493.36h1.5M363 493.36h-1.5M230.45 500.04h1.5M363 500.04h-1.5M230.45 506.71h1.5M363 506.71h-1.5M230.45 513.39h2.8M363 513.39h-2.8M230.45 520.07h1.5M363 520.07h-1.5"/>
<clipPath id="c9"><rect x="230.45" y="386.5" width="132.55" height="140.25"/></clipPath>
<g class="d" clip-path="url(#c9)"><circle cx="262.85" cy="422.63" r="2.5"/><circle cx="329.12" cy="422.63" r="2.5"/><circle cx="261.79" cy="425.26" r="2.5"/><circle cx="328.07" cy="425.26" r="2.5"/><circle cx="260.21" cy="427.16" r="2.5"/><circle cx="326.48" cy="427.16" r="2.5"/><circle cx="263.89" cy="425.26" r="2.5"/><circle cx="330.17" cy="425.26" r="2.5"/><circle cx="264.95" cy="427.16" r="2.5"/><circle cx="331.22" cy="427.16" r="2.5"/><circle cx="238.95" cy="479.53" r="2.5"/><circle cx="305.22" cy="479.53" r="2.5"/><circle cx="237.05" cy="488.48" r="2.5"/><circle cx="303.33" cy="488.48" r="2.5"/><circle cx="236.21" cy="490.05" r="2.5"/><circle cx="302.48" cy="490.05" r="2.5"/><circle cx="235.26" cy="496.06" r="2.5"/><circle cx="301.54" cy="496.06" r="2.5"/><circle cx="236.21" cy="497.95" r="2.5"/><circle cx="302.48" cy="497.95" r="2.5"/><circle cx="234.95" cy="501.32" r="2.5"/><circle cx="301.23" cy="501.32" r="2.5"/><circle cx="233.9" cy="502.89" r="2.5"/><circle cx="300.17" cy="502.89" r="2.5"/><circle cx="232.84" cy="505" r="2.5"/><circle cx="299.12" cy="505" r="2.5"/><circle cx="288.63" cy="486.37" r="2.5"/><circle cx="354.91" cy="486.37" r="2.5"/><circle cx="289.69" cy="488.68" r="2.5"/><circle cx="355.96" cy="488.68" r="2.5"/><circle cx="290.53" cy="494.47" r="2.5"/><circle cx="356.8" cy="494.47" r="2.5"/><circle cx="295.26" cy="502.89" r="2.5"/><circle cx="361.54" cy="502.89" r="2.5"/></g>
<rect class="ax" x="230.45" y="386.5" width="132.55" height="140.25"/>
<path class="ml" d="M296.5 386.5V526.75"/>
<text class="k" transform="translate(230.25 539.25) scale(1 1.08)">0.0</text>
<text class="k" transform="translate(263.39 539.25) scale(1 1.08)">0.5</text>
<text class="k" transform="translate(296.53 539.25) scale(1 1.08)">1.0</text>
<text class="k" transform="translate(329.66 539.25) scale(1 1.08)">1.5</text>
<text class="k" transform="translate(362.8 539.25) scale(1 1.08)">2.0</text>
<text class="y" transform="translate(228.05 416.91) scale(1 1.08)">14.5</text>
<text class="y" transform="translate(228.05 450.31) scale(1 1.08)">15.0</text>
<text class="y" transform="translate(228.05 483.7) scale(1 1.08)">15.5</text>
<text class="y" transform="translate(228.05 517.09) scale(1 1.08)">16.0</text>
<text class="l" transform="translate(296.43 549.15) scale(1 1.08)">Phase (P = 0.693264 d)</text>
<text class="l" transform="translate(202.85 456.62) rotate(-90)">R magnitude</text>
</g>
<g>
<text class="t" x="492.43" y="382.1">R Filter January 2016</text>
<path class="tk" d="M433.12 526.75v-1.5M433.12 386.5v1.5M439.75 526.75v-1.5M439.75 386.5v1.5M446.37 526.75v-1.5M446.37 386.5v1.5M452.99 526.75v-1.5M452.99 386.5v1.5M459.61 526.75v-2.8M459.61 386.5v2.8M466.24 526.75v-1.5M466.24 386.5v1.5M472.86 526.75v-1.5M472.86 386.5v1.5M479.48 526.75v-1.5M479.48 386.5v1.5M486.1 526.75v-1.5M486.1 386.5v1.5M492.73 526.75v-2.8M492.73 386.5v2.8M499.35 526.75v-1.5M499.35 386.5v1.5M505.97 526.75v-1.5M505.97 386.5v1.5M512.59 526.75v-1.5M512.59 386.5v1.5M519.22 526.75v-1.5M519.22 386.5v1.5M525.84 526.75v-2.8M525.84 386.5v2.8M532.46 526.75v-1.5M532.46 386.5v1.5M539.08 526.75v-1.5M539.08 386.5v1.5M545.71 526.75v-1.5M545.71 386.5v1.5M552.33 526.75v-1.5M552.33 386.5v1.5M426.5 393.18h1.5M558.95 393.18h-1.5M426.5 399.86h1.5M558.95 399.86h-1.5M426.5 406.54h1.5M558.95 406.54h-1.5M426.5 413.21h2.8M558.95 413.21h-2.8M426.5 419.89h1.5M558.95 419.89h-1.5M426.5 426.57h1.5M558.95 426.57h-1.5M426.5 433.25h1.5M558.95 433.25h-1.5M426.5 439.93h1.5M558.95 439.93h-1.5M426.5 446.61h2.8M558.95 446.61h-2.8M426.5 453.29h1.5M558.95 453.29h-1.5M426.5 459.96h1.5M558.95 459.96h-1.5M426.5 466.64h1.5M558.95 466.64h-1.5M426.5 473.32h1.5M558.95 473.32h-1.5M426.5 480h2.8M558.95 480h-2.8M426.5 486.68h1.5M558.95 486.68h-1.5M426.5 493.36h1.5M558.95 493.36h-1.5M426.5 500.04h1.5M558.95 500.04h-1.5M426.5 506.71h1.5M558.95 506.71h-1.5M426.5 513.39h2.8M558.95 513.39h-2.8M426.5 520.07h1.5M558.95 520.07h-1.5"/>
<clipPath id="c10"><rect x="426.5" y="386.5" width="132.45" height="140.25"/></clipPath>
<g class="d" clip-path="url(#c10)"><circle cx="439.37" cy="472.84" r="2.5"/><circle cx="505.59" cy="472.84" r="2.5"/><circle cx="440.95" cy="471.05" r="2.5"/><circle cx="507.18" cy="471.05" r="2.5"/><circle cx="442.53" cy="469.47" r="2.5"/><circle cx="508.75" cy="469.47" r="2.5"/><circle cx="443.58" cy="467.37" r="2.5"/><circle cx="509.8" cy="467.37" r="2.5"/><circle cx="445.16" cy="468.42" r="2.5"/><circle cx="511.38" cy="468.42" r="2.5"/><circle cx="446.74" cy="467.16" r="2.5"/><circle cx="512.96" cy="467.16" r="2.5"/><circle cx="448.31" cy="466.32" r="2.5"/><circle cx="514.54" cy="466.32" r="2.5"/><circle cx="449.58" cy="467.58" r="2.5"/><circle cx="515.8" cy="467.58" r="2.5"/><circle cx="450.63" cy="464.74" r="2.5"/><circle cx="516.86" cy="464.74" r="2.5"/><circle cx="468.31" cy="465.26" r="2.5"/><circle cx="534.54" cy="465.26" r="2.5"/><circle cx="469.9" cy="466.32" r="2.5"/><circle cx="536.12" cy="466.32" r="2.5"/><circle cx="470.95" cy="468.42" r="2.5"/><circle cx="537.18" cy="468.42" r="2.5"/><circle cx="472.53" cy="469.47" r="2.5"/><circle cx="538.75" cy="469.47" r="2.5"/><circle cx="474.1" cy="468.42" r="2.5"/><circle cx="540.33" cy="468.42" r="2.5"/><circle cx="475.16" cy="471.05" r="2.5"/><circle cx="541.38" cy="471.05" r="2.5"/><circle cx="476.74" cy="472.63" r="2.5"/><circle cx="542.96" cy="472.63" r="2.5"/><circle cx="478.84" cy="473.68" r="2.5"/><circle cx="545.07" cy="473.68" r="2.5"/><circle cx="475.69" cy="475.26" r="2.5"/><circle cx="541.91" cy="475.26" r="2.5"/><circle cx="477.79" cy="476.63" r="2.5"/><circle cx="544.02" cy="476.63" r="2.5"/></g>
<rect class="ax" x="426.5" y="386.5" width="132.45" height="140.25"/>
<path class="mw" d="M492.95 386.5V526.75"/>
<text class="k" transform="translate(426.3 539.25) scale(1 1.08)">0.0</text>
<text class="k" transform="translate(459.41 539.25) scale(1 1.08)">0.5</text>
<text class="k" transform="translate(492.53 539.25) scale(1 1.08)">1.0</text>
<text class="k" transform="translate(525.64 539.25) scale(1 1.08)">1.5</text>
<text class="k" transform="translate(558.75 539.25) scale(1 1.08)">2.0</text>
<text class="y" transform="translate(424.1 416.91) scale(1 1.08)">14.5</text>
<text class="y" transform="translate(424.1 450.31) scale(1 1.08)">15.0</text>
<text class="y" transform="translate(424.1 483.7) scale(1 1.08)">15.5</text>
<text class="y" transform="translate(424.1 517.09) scale(1 1.08)">16.0</text>
<text class="l" transform="translate(492.43 549.15) scale(1 1.08)">Phase (P = 0.693264 d)</text>
<text class="l" transform="translate(398.9 456.62) rotate(-90)">R magnitude</text>
</g>
<g>
<text class="t" x="688.75" y="382.1">R Filter October 2016</text>
<path class="tk" d="M629.29 526.75v-1.5M629.29 386.5v1.5M635.93 526.75v-1.5M635.93 386.5v1.5M642.57 526.75v-1.5M642.57 386.5v1.5M649.21 526.75v-1.5M649.21 386.5v1.5M655.85 526.75v-2.8M655.85 386.5v2.8M662.49 526.75v-1.5M662.49 386.5v1.5M669.13 526.75v-1.5M669.13 386.5v1.5M675.77 526.75v-1.5M675.77 386.5v1.5M682.41 526.75v-1.5M682.41 386.5v1.5M689.05 526.75v-2.8M689.05 386.5v2.8M695.69 526.75v-1.5M695.69 386.5v1.5M702.33 526.75v-1.5M702.33 386.5v1.5M708.97 526.75v-1.5M708.97 386.5v1.5M715.61 526.75v-1.5M715.61 386.5v1.5M722.25 526.75v-2.8M722.25 386.5v2.8M728.89 526.75v-1.5M728.89 386.5v1.5M735.53 526.75v-1.5M735.53 386.5v1.5M742.17 526.75v-1.5M742.17 386.5v1.5M748.81 526.75v-1.5M748.81 386.5v1.5M622.65 393.18h1.5M755.45 393.18h-1.5M622.65 399.86h1.5M755.45 399.86h-1.5M622.65 406.54h1.5M755.45 406.54h-1.5M622.65 413.21h2.8M755.45 413.21h-2.8M622.65 419.89h1.5M755.45 419.89h-1.5M622.65 426.57h1.5M755.45 426.57h-1.5M622.65 433.25h1.5M755.45 433.25h-1.5M622.65 439.93h1.5M755.45 439.93h-1.5M622.65 446.61h2.8M755.45 446.61h-2.8M622.65 453.29h1.5M755.45 453.29h-1.5M622.65 459.96h1.5M755.45 459.96h-1.5M622.65 466.64h1.5M755.45 466.64h-1.5M622.65 473.32h1.5M755.45 473.32h-1.5M622.65 480h2.8M755.45 480h-2.8M622.65 486.68h1.5M755.45 486.68h-1.5M622.65 493.36h1.5M755.45 493.36h-1.5M622.65 500.04h1.5M755.45 500.04h-1.5M622.65 506.71h1.5M755.45 506.71h-1.5M622.65 513.39h2.8M755.45 513.39h-2.8M622.65 520.07h1.5M755.45 520.07h-1.5"/>
<clipPath id="c11"><rect x="622.65" y="386.5" width="132.8" height="140.25"/></clipPath>
<g class="d" clip-path="url(#c11)"><circle cx="630.77" cy="484.98" r="2.5"/><circle cx="697.17" cy="484.98" r="2.5"/><circle cx="631.36" cy="482.95" r="2.5"/><circle cx="697.76" cy="482.95" r="2.5"/><circle cx="632.48" cy="481.25" r="2.5"/><circle cx="698.88" cy="481.25" r="2.5"/><circle cx="634.12" cy="480.04" r="2.5"/><circle cx="700.52" cy="480.04" r="2.5"/><circle cx="635.69" cy="478.78" r="2.5"/><circle cx="702.09" cy="478.78" r="2.5"/><circle cx="637.67" cy="478.03" r="2.5"/><circle cx="704.07" cy="478.03" r="2.5"/><circle cx="639.48" cy="478.08" r="2.5"/><circle cx="705.88" cy="478.08" r="2.5"/><circle cx="641.14" cy="476.96" r="2.5"/><circle cx="707.54" cy="476.96" r="2.5"/><circle cx="643.05" cy="476.19" r="2.5"/><circle cx="709.45" cy="476.19" r="2.5"/><circle cx="644.79" cy="475.53" r="2.5"/><circle cx="711.19" cy="475.53" r="2.5"/><circle cx="645.9" cy="474.21" r="2.5"/><circle cx="712.3" cy="474.21" r="2.5"/><circle cx="652.23" cy="470.86" r="2.5"/><circle cx="718.63" cy="470.86" r="2.5"/><circle cx="654.16" cy="471.55" r="2.5"/><circle cx="720.56" cy="471.55" r="2.5"/><circle cx="656.2" cy="471.53" r="2.5"/><circle cx="722.6" cy="471.53" r="2.5"/><circle cx="657.91" cy="472.54" r="2.5"/><circle cx="724.31" cy="472.54" r="2.5"/><circle cx="659.55" cy="473.73" r="2.5"/><circle cx="725.95" cy="473.73" r="2.5"/><circle cx="661.16" cy="473.74" r="2.5"/><circle cx="727.56" cy="473.74" r="2.5"/><circle cx="663.24" cy="473.4" r="2.5"/><circle cx="729.64" cy="473.4" r="2.5"/><circle cx="665.17" cy="474.04" r="2.5"/><circle cx="731.57" cy="474.04" r="2.5"/><circle cx="667.28" cy="474.38" r="2.5"/><circle cx="733.68" cy="474.38" r="2.5"/><circle cx="668.63" cy="476.02" r="2.5"/><circle cx="735.03" cy="476.02" r="2.5"/><circle cx="670.44" cy="476.89" r="2.5"/><circle cx="736.84" cy="476.89" r="2.5"/><circle cx="672.34" cy="477.61" r="2.5"/><circle cx="738.74" cy="477.61" r="2.5"/><circle cx="673.91" cy="478.88" r="2.5"/><circle cx="740.31" cy="478.88" r="2.5"/><circle cx="675.17" cy="480.41" r="2.5"/><circle cx="741.57" cy="480.41" r="2.5"/><circle cx="677.17" cy="481.24" r="2.5"/><circle cx="743.57" cy="481.24" r="2.5"/><circle cx="678.25" cy="483.03" r="2.5"/><circle cx="744.65" cy="483.03" r="2.5"/><circle cx="680.05" cy="483.97" r="2.5"/><circle cx="746.45" cy="483.97" r="2.5"/><circle cx="681.57" cy="485.27" r="2.5"/><circle cx="747.97" cy="485.27" r="2.5"/><circle cx="683.43" cy="485.88" r="2.5"/><circle cx="749.83" cy="485.88" r="2.5"/><circle cx="684.84" cy="485.26" r="2.5"/><circle cx="751.24" cy="485.26" r="2.5"/><circle cx="652.77" cy="472.01" r="2.5"/><circle cx="719.17" cy="472.01" r="2.5"/><circle cx="655.2" cy="472.93" r="2.5"/><circle cx="721.6" cy="472.93" r="2.5"/><circle cx="657.4" cy="474.28" r="2.5"/><circle cx="723.8" cy="474.28" r="2.5"/><circle cx="659.9" cy="475.3" r="2.5"/><circle cx="726.3" cy="475.3" r="2.5"/><circle cx="662.56" cy="474.92" r="2.5"/><circle cx="728.96" cy="474.92" r="2.5"/><circle cx="664.75" cy="476.41" r="2.5"/><circle cx="731.15" cy="476.41" r="2.5"/><circle cx="667.26" cy="477.17" r="2.5"/><circle cx="733.66" cy="477.17" r="2.5"/><circle cx="669.57" cy="478.22" r="2.5"/><circle cx="735.97" cy="478.22" r="2.5"/><circle cx="671.86" cy="479.47" r="2.5"/><circle cx="738.26" cy="479.47" r="2.5"/><circle cx="674.15" cy="480.69" r="2.5"/><circle cx="740.55" cy="480.69" r="2.5"/><circle cx="676.47" cy="481.96" r="2.5"/><circle cx="742.87" cy="481.96" r="2.5"/><circle cx="678.5" cy="483.61" r="2.5"/><circle cx="744.9" cy="483.61" r="2.5"/><circle cx="680.53" cy="485.24" r="2.5"/><circle cx="746.93" cy="485.24" r="2.5"/><circle cx="682.26" cy="487.26" r="2.5"/><circle cx="748.66" cy="487.26" r="2.5"/><circle cx="683.79" cy="487.89" r="2.5"/><circle cx="750.19" cy="487.89" r="2.5"/><circle cx="630.48" cy="485.35" r="2.5"/><circle cx="696.88" cy="485.35" r="2.5"/><circle cx="632.09" cy="483.31" r="2.5"/><circle cx="698.49" cy="483.31" r="2.5"/><circle cx="633.85" cy="481.36" r="2.5"/><circle cx="700.25" cy="481.36" r="2.5"/><circle cx="636.33" cy="480.37" r="2.5"/><circle cx="702.73" cy="480.37" r="2.5"/><circle cx="638.65" cy="479.73" r="2.5"/><circle cx="705.05" cy="479.73" r="2.5"/><circle cx="641.16" cy="478.93" r="2.5"/><circle cx="707.56" cy="478.93" r="2.5"/><circle cx="643.29" cy="477.41" r="2.5"/><circle cx="709.69" cy="477.41" r="2.5"/><circle cx="645.16" cy="476.63" r="2.5"/><circle cx="711.56" cy="476.63" r="2.5"/></g>
<rect class="ax" x="622.65" y="386.5" width="132.8" height="140.25"/>
<path class="mw" d="M689.05 386.5V526.75"/>
<text class="k" transform="translate(622.45 539.25) scale(1 1.08)">0.0</text>
<text class="k" transform="translate(655.65 539.25) scale(1 1.08)">0.5</text>
<text class="k" transform="translate(688.85 539.25) scale(1 1.08)">1.0</text>
<text class="k" transform="translate(722.05 539.25) scale(1 1.08)">1.5</text>
<text class="k" transform="translate(755.25 539.25) scale(1 1.08)">2.0</text>
<text class="y" transform="translate(620.25 416.91) scale(1 1.08)">14.5</text>
<text class="y" transform="translate(620.25 450.31) scale(1 1.08)">15.0</text>
<text class="y" transform="translate(620.25 483.7) scale(1 1.08)">15.5</text>
<text class="y" transform="translate(620.25 517.09) scale(1 1.08)">16.0</text>
<text class="l" transform="translate(688.75 549.15) scale(1 1.08)">Phase (P = 0.693264 d)</text>
<text class="l" transform="translate(595.05 456.62) rotate(-90)">R magnitude</text>
</g>
</svg></body></html>
